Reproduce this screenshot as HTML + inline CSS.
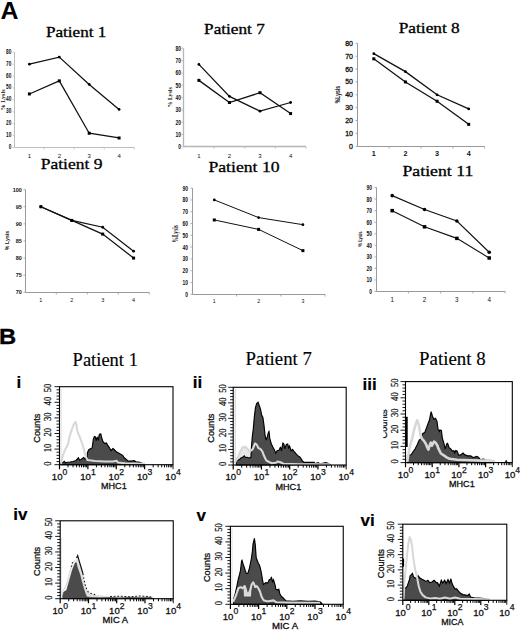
<!DOCTYPE html>
<html><head><meta charset="utf-8"><style>
html,body{margin:0;padding:0;background:#fff;width:520px;height:630px;overflow:hidden;position:relative}
</style></head><body>
<svg width="520" height="630" viewBox="0 0 520 630" style="position:absolute;left:0;top:0">
<text x="0.4" y="19.1" font-size="24.8" font-weight="bold" font-family='"Liberation Sans", sans-serif' fill="#000" textLength="18" lengthAdjust="spacingAndGlyphs">A</text>
<line x1="14.5" y1="52.3" x2="14.5" y2="147.5" stroke="#bdbdbd" stroke-width="1"/>
<line x1="12.5" y1="147.5" x2="14.5" y2="147.5" stroke="#bdbdbd" stroke-width="0.8"/>
<line x1="12.5" y1="135.6" x2="14.5" y2="135.6" stroke="#bdbdbd" stroke-width="0.8"/>
<line x1="12.5" y1="123.7" x2="14.5" y2="123.7" stroke="#bdbdbd" stroke-width="0.8"/>
<line x1="12.5" y1="111.8" x2="14.5" y2="111.8" stroke="#bdbdbd" stroke-width="0.8"/>
<line x1="12.5" y1="99.9" x2="14.5" y2="99.9" stroke="#bdbdbd" stroke-width="0.8"/>
<line x1="12.5" y1="88" x2="14.5" y2="88" stroke="#bdbdbd" stroke-width="0.8"/>
<line x1="12.5" y1="76.1" x2="14.5" y2="76.1" stroke="#bdbdbd" stroke-width="0.8"/>
<line x1="12.5" y1="64.2" x2="14.5" y2="64.2" stroke="#bdbdbd" stroke-width="0.8"/>
<line x1="12.5" y1="52.3" x2="14.5" y2="52.3" stroke="#bdbdbd" stroke-width="0.8"/>
<line x1="14.5" y1="147.5" x2="134.3" y2="147.5" stroke="#bdbdbd" stroke-width="1"/>
<line x1="44.08" y1="147.5" x2="44.08" y2="149.5" stroke="#bdbdbd" stroke-width="0.8"/>
<line x1="74.15" y1="147.5" x2="74.15" y2="149.5" stroke="#bdbdbd" stroke-width="0.8"/>
<line x1="104.23" y1="147.5" x2="104.23" y2="149.5" stroke="#bdbdbd" stroke-width="0.8"/>
<line x1="134.3" y1="147.5" x2="134.3" y2="149.5" stroke="#bdbdbd" stroke-width="0.8"/>
<text x="8.65" y="148.98" font-size="6.6" text-anchor="start" font-family='"Liberation Sans", sans-serif' font-weight="bold" fill="#111" stroke="#111" stroke-width="0" textLength="2.65" lengthAdjust="spacingAndGlyphs">0</text>
<text x="6" y="137.08" font-size="6.6" text-anchor="start" font-family='"Liberation Sans", sans-serif' font-weight="bold" fill="#111" stroke="#111" stroke-width="0" textLength="5.3" lengthAdjust="spacingAndGlyphs">10</text>
<text x="6" y="125.18" font-size="6.6" text-anchor="start" font-family='"Liberation Sans", sans-serif' font-weight="bold" fill="#111" stroke="#111" stroke-width="0" textLength="5.3" lengthAdjust="spacingAndGlyphs">20</text>
<text x="6" y="113.28" font-size="6.6" text-anchor="start" font-family='"Liberation Sans", sans-serif' font-weight="bold" fill="#111" stroke="#111" stroke-width="0" textLength="5.3" lengthAdjust="spacingAndGlyphs">30</text>
<text x="6" y="101.38" font-size="6.6" text-anchor="start" font-family='"Liberation Sans", sans-serif' font-weight="bold" fill="#111" stroke="#111" stroke-width="0" textLength="5.3" lengthAdjust="spacingAndGlyphs">40</text>
<text x="6" y="89.48" font-size="6.6" text-anchor="start" font-family='"Liberation Sans", sans-serif' font-weight="bold" fill="#111" stroke="#111" stroke-width="0" textLength="5.3" lengthAdjust="spacingAndGlyphs">50</text>
<text x="6" y="77.58" font-size="6.6" text-anchor="start" font-family='"Liberation Sans", sans-serif' font-weight="bold" fill="#111" stroke="#111" stroke-width="0" textLength="5.3" lengthAdjust="spacingAndGlyphs">60</text>
<text x="6" y="65.68" font-size="6.6" text-anchor="start" font-family='"Liberation Sans", sans-serif' font-weight="bold" fill="#111" stroke="#111" stroke-width="0" textLength="5.3" lengthAdjust="spacingAndGlyphs">70</text>
<text x="6" y="53.78" font-size="6.6" text-anchor="start" font-family='"Liberation Sans", sans-serif' font-weight="bold" fill="#111" stroke="#111" stroke-width="0" textLength="5.3" lengthAdjust="spacingAndGlyphs">80</text>
<text x="29.4" y="157.56" font-size="6.0" text-anchor="middle" font-family='"Liberation Sans", sans-serif' font-weight="normal" fill="#111">1</text>
<text x="59.3" y="157.56" font-size="6.0" text-anchor="middle" font-family='"Liberation Sans", sans-serif' font-weight="normal" fill="#111">2</text>
<text x="89.2" y="157.56" font-size="6.0" text-anchor="middle" font-family='"Liberation Sans", sans-serif' font-weight="normal" fill="#111">3</text>
<text x="119.1" y="157.56" font-size="6.0" text-anchor="middle" font-family='"Liberation Sans", sans-serif' font-weight="normal" fill="#111">4</text>
<text transform="translate(4.7,99.9) rotate(-90)" font-size="5.5" text-anchor="middle" font-family='"Liberation Serif", serif' font-weight="bold" fill="#111" textLength="21" lengthAdjust="spacingAndGlyphs">% Lysis</text>
<polyline points="29.4,64.2 59.3,57.06 89.2,84.43 119.1,109.42" fill="none" stroke="#111" stroke-width="1.25" stroke-linejoin="miter"/>
<circle cx="29.4" cy="64.2" r="1.4" fill="#000"/>
<circle cx="59.3" cy="57.06" r="1.4" fill="#000"/>
<circle cx="89.2" cy="84.43" r="1.4" fill="#000"/>
<circle cx="119.1" cy="109.42" r="1.4" fill="#000"/>
<polyline points="29.4,93.95 59.3,80.86 89.2,133.22 119.1,137.98" fill="none" stroke="#111" stroke-width="1.25" stroke-linejoin="miter"/>
<rect x="27.9" y="92.45" width="3.0" height="3.0" fill="#000"/>
<rect x="57.8" y="79.36" width="3.0" height="3.0" fill="#000"/>
<rect x="87.7" y="131.72" width="3.0" height="3.0" fill="#000"/>
<rect x="117.6" y="136.48" width="3.0" height="3.0" fill="#000"/>
<text x="46" y="36.7" font-size="13.6" font-family='"Liberation Serif", serif' fill="#000" stroke="#000" stroke-width="0.3" textLength="60.3" lengthAdjust="spacingAndGlyphs">Patient 1</text>
<line x1="183.5" y1="48.4" x2="183.5" y2="146.5" stroke="#b5b5b5" stroke-width="1.3"/>
<line x1="181.5" y1="146.8" x2="183.5" y2="146.8" stroke="#b5b5b5" stroke-width="0.8"/>
<line x1="181.5" y1="134.5" x2="183.5" y2="134.5" stroke="#b5b5b5" stroke-width="0.8"/>
<line x1="181.5" y1="122.2" x2="183.5" y2="122.2" stroke="#b5b5b5" stroke-width="0.8"/>
<line x1="181.5" y1="109.9" x2="183.5" y2="109.9" stroke="#b5b5b5" stroke-width="0.8"/>
<line x1="181.5" y1="97.6" x2="183.5" y2="97.6" stroke="#b5b5b5" stroke-width="0.8"/>
<line x1="181.5" y1="85.3" x2="183.5" y2="85.3" stroke="#b5b5b5" stroke-width="0.8"/>
<line x1="181.5" y1="73" x2="183.5" y2="73" stroke="#b5b5b5" stroke-width="0.8"/>
<line x1="181.5" y1="60.7" x2="183.5" y2="60.7" stroke="#b5b5b5" stroke-width="0.8"/>
<line x1="181.5" y1="48.4" x2="183.5" y2="48.4" stroke="#b5b5b5" stroke-width="0.8"/>
<line x1="183.5" y1="146.5" x2="306" y2="146.5" stroke="#b5b5b5" stroke-width="1.3"/>
<line x1="214.2" y1="146.5" x2="214.2" y2="148.5" stroke="#b5b5b5" stroke-width="0.8"/>
<line x1="244.8" y1="146.5" x2="244.8" y2="148.5" stroke="#b5b5b5" stroke-width="0.8"/>
<line x1="275.4" y1="146.5" x2="275.4" y2="148.5" stroke="#b5b5b5" stroke-width="0.8"/>
<line x1="306" y1="146.5" x2="306" y2="148.5" stroke="#b5b5b5" stroke-width="0.8"/>
<text x="178.15" y="149.1" font-size="6.4" text-anchor="start" font-family='"Liberation Sans", sans-serif' font-weight="bold" fill="#111" stroke="#111" stroke-width="0" textLength="2.75" lengthAdjust="spacingAndGlyphs">0</text>
<text x="175.4" y="136.8" font-size="6.4" text-anchor="start" font-family='"Liberation Sans", sans-serif' font-weight="bold" fill="#111" stroke="#111" stroke-width="0" textLength="5.5" lengthAdjust="spacingAndGlyphs">10</text>
<text x="175.4" y="124.5" font-size="6.4" text-anchor="start" font-family='"Liberation Sans", sans-serif' font-weight="bold" fill="#111" stroke="#111" stroke-width="0" textLength="5.5" lengthAdjust="spacingAndGlyphs">20</text>
<text x="175.4" y="112.2" font-size="6.4" text-anchor="start" font-family='"Liberation Sans", sans-serif' font-weight="bold" fill="#111" stroke="#111" stroke-width="0" textLength="5.5" lengthAdjust="spacingAndGlyphs">30</text>
<text x="175.4" y="99.9" font-size="6.4" text-anchor="start" font-family='"Liberation Sans", sans-serif' font-weight="bold" fill="#111" stroke="#111" stroke-width="0" textLength="5.5" lengthAdjust="spacingAndGlyphs">40</text>
<text x="175.4" y="87.6" font-size="6.4" text-anchor="start" font-family='"Liberation Sans", sans-serif' font-weight="bold" fill="#111" stroke="#111" stroke-width="0" textLength="5.5" lengthAdjust="spacingAndGlyphs">50</text>
<text x="175.4" y="75.3" font-size="6.4" text-anchor="start" font-family='"Liberation Sans", sans-serif' font-weight="bold" fill="#111" stroke="#111" stroke-width="0" textLength="5.5" lengthAdjust="spacingAndGlyphs">60</text>
<text x="175.4" y="63" font-size="6.4" text-anchor="start" font-family='"Liberation Sans", sans-serif' font-weight="bold" fill="#111" stroke="#111" stroke-width="0" textLength="5.5" lengthAdjust="spacingAndGlyphs">70</text>
<text x="175.4" y="50.7" font-size="6.4" text-anchor="start" font-family='"Liberation Sans", sans-serif' font-weight="bold" fill="#111" stroke="#111" stroke-width="0" textLength="5.5" lengthAdjust="spacingAndGlyphs">80</text>
<text x="198.9" y="157.66" font-size="6.0" text-anchor="middle" font-family='"Liberation Sans", sans-serif' font-weight="normal" fill="#111">1</text>
<text x="229.47" y="157.66" font-size="6.0" text-anchor="middle" font-family='"Liberation Sans", sans-serif' font-weight="normal" fill="#111">2</text>
<text x="260.03" y="157.66" font-size="6.0" text-anchor="middle" font-family='"Liberation Sans", sans-serif' font-weight="normal" fill="#111">3</text>
<text x="290.6" y="157.66" font-size="6.0" text-anchor="middle" font-family='"Liberation Sans", sans-serif' font-weight="normal" fill="#111">4</text>
<text transform="translate(172,97.3) rotate(-90)" font-size="5.5" text-anchor="middle" font-family='"Liberation Serif", serif' font-weight="bold" fill="#111" textLength="20" lengthAdjust="spacingAndGlyphs">% Lysis</text>
<polyline points="198.9,64.39 229.47,96.37 260.03,111.13 290.6,102.52" fill="none" stroke="#111" stroke-width="1.25" stroke-linejoin="miter"/>
<circle cx="198.9" cy="64.39" r="1.4" fill="#000"/>
<circle cx="229.47" cy="96.37" r="1.4" fill="#000"/>
<circle cx="260.03" cy="111.13" r="1.4" fill="#000"/>
<circle cx="290.6" cy="102.52" r="1.4" fill="#000"/>
<polyline points="198.9,80.38 229.47,102.52 260.03,92.68 290.6,113.59" fill="none" stroke="#111" stroke-width="1.25" stroke-linejoin="miter"/>
<rect x="197.4" y="78.88" width="3.0" height="3.0" fill="#000"/>
<rect x="227.97" y="101.02" width="3.0" height="3.0" fill="#000"/>
<rect x="258.53" y="91.18" width="3.0" height="3.0" fill="#000"/>
<rect x="289.1" y="112.09" width="3.0" height="3.0" fill="#000"/>
<text x="204.1" y="33.6" font-size="13.6" font-family='"Liberation Serif", serif' fill="#000" stroke="#000" stroke-width="0.3" textLength="60.7" lengthAdjust="spacingAndGlyphs">Patient 7</text>
<line x1="357.5" y1="43.4" x2="357.5" y2="146.5" stroke="#9a9a9a" stroke-width="1"/>
<line x1="355.5" y1="146.2" x2="357.5" y2="146.2" stroke="#9a9a9a" stroke-width="0.8"/>
<line x1="355.5" y1="133.35" x2="357.5" y2="133.35" stroke="#9a9a9a" stroke-width="0.8"/>
<line x1="355.5" y1="120.5" x2="357.5" y2="120.5" stroke="#9a9a9a" stroke-width="0.8"/>
<line x1="355.5" y1="107.65" x2="357.5" y2="107.65" stroke="#9a9a9a" stroke-width="0.8"/>
<line x1="355.5" y1="94.8" x2="357.5" y2="94.8" stroke="#9a9a9a" stroke-width="0.8"/>
<line x1="355.5" y1="81.95" x2="357.5" y2="81.95" stroke="#9a9a9a" stroke-width="0.8"/>
<line x1="355.5" y1="69.1" x2="357.5" y2="69.1" stroke="#9a9a9a" stroke-width="0.8"/>
<line x1="355.5" y1="56.25" x2="357.5" y2="56.25" stroke="#9a9a9a" stroke-width="0.8"/>
<line x1="355.5" y1="43.4" x2="357.5" y2="43.4" stroke="#9a9a9a" stroke-width="0.8"/>
<line x1="357.5" y1="146.5" x2="484.6" y2="146.5" stroke="#9a9a9a" stroke-width="1"/>
<line x1="389.2" y1="146.5" x2="389.2" y2="148.5" stroke="#9a9a9a" stroke-width="0.8"/>
<line x1="421" y1="146.5" x2="421" y2="148.5" stroke="#9a9a9a" stroke-width="0.8"/>
<line x1="452.8" y1="146.5" x2="452.8" y2="148.5" stroke="#9a9a9a" stroke-width="0.8"/>
<line x1="484.6" y1="146.5" x2="484.6" y2="148.5" stroke="#9a9a9a" stroke-width="0.8"/>
<text x="353" y="148.72" font-size="7.0" text-anchor="end" font-family='"Liberation Sans", sans-serif' font-weight="normal" fill="#111" stroke="#111" stroke-width="0.3">0</text>
<text x="353" y="135.87" font-size="7.0" text-anchor="end" font-family='"Liberation Sans", sans-serif' font-weight="normal" fill="#111" stroke="#111" stroke-width="0.3">10</text>
<text x="353" y="123.02" font-size="7.0" text-anchor="end" font-family='"Liberation Sans", sans-serif' font-weight="normal" fill="#111" stroke="#111" stroke-width="0.3">20</text>
<text x="353" y="110.17" font-size="7.0" text-anchor="end" font-family='"Liberation Sans", sans-serif' font-weight="normal" fill="#111" stroke="#111" stroke-width="0.3">30</text>
<text x="353" y="97.32" font-size="7.0" text-anchor="end" font-family='"Liberation Sans", sans-serif' font-weight="normal" fill="#111" stroke="#111" stroke-width="0.3">40</text>
<text x="353" y="84.47" font-size="7.0" text-anchor="end" font-family='"Liberation Sans", sans-serif' font-weight="normal" fill="#111" stroke="#111" stroke-width="0.3">50</text>
<text x="353" y="71.62" font-size="7.0" text-anchor="end" font-family='"Liberation Sans", sans-serif' font-weight="normal" fill="#111" stroke="#111" stroke-width="0.3">60</text>
<text x="353" y="58.77" font-size="7.0" text-anchor="end" font-family='"Liberation Sans", sans-serif' font-weight="normal" fill="#111" stroke="#111" stroke-width="0.3">70</text>
<text x="353" y="45.92" font-size="7.0" text-anchor="end" font-family='"Liberation Sans", sans-serif' font-weight="normal" fill="#111" stroke="#111" stroke-width="0.3">80</text>
<text x="373.8" y="155.69" font-size="7.2" text-anchor="middle" font-family='"Liberation Sans", sans-serif' font-weight="bold" fill="#111">1</text>
<text x="405.43" y="155.69" font-size="7.2" text-anchor="middle" font-family='"Liberation Sans", sans-serif' font-weight="bold" fill="#111">2</text>
<text x="437.07" y="155.69" font-size="7.2" text-anchor="middle" font-family='"Liberation Sans", sans-serif' font-weight="bold" fill="#111">3</text>
<text x="468.7" y="155.69" font-size="7.2" text-anchor="middle" font-family='"Liberation Sans", sans-serif' font-weight="bold" fill="#111">4</text>
<text transform="translate(340,94.6) rotate(-90)" font-size="7.2" text-anchor="middle" font-family='"Liberation Sans", sans-serif' font-weight="bold" fill="#111" textLength="17.4" lengthAdjust="spacingAndGlyphs">%Lysis</text>
<polyline points="373.8,53.68 405.43,71.67 437.07,94.8 468.7,108.93" fill="none" stroke="#111" stroke-width="1.3" stroke-linejoin="miter"/>
<circle cx="373.8" cy="53.68" r="1.4" fill="#000"/>
<circle cx="405.43" cy="71.67" r="1.4" fill="#000"/>
<circle cx="437.07" cy="94.8" r="1.4" fill="#000"/>
<circle cx="468.7" cy="108.93" r="1.4" fill="#000"/>
<polyline points="373.8,58.82 405.43,81.95 437.07,101.22 468.7,124.35" fill="none" stroke="#111" stroke-width="1.3" stroke-linejoin="miter"/>
<rect x="372.3" y="57.32" width="3.0" height="3.0" fill="#000"/>
<rect x="403.93" y="80.45" width="3.0" height="3.0" fill="#000"/>
<rect x="435.57" y="99.72" width="3.0" height="3.0" fill="#000"/>
<rect x="467.2" y="122.85" width="3.0" height="3.0" fill="#000"/>
<text x="398.7" y="33" font-size="13.6" font-family='"Liberation Serif", serif' fill="#000" stroke="#000" stroke-width="0.3" textLength="61.1" lengthAdjust="spacingAndGlyphs">Patient 8</text>
<line x1="25.5" y1="189.61" x2="25.5" y2="292.5" stroke="#9a9a9a" stroke-width="1"/>
<line x1="23.5" y1="292.3" x2="25.5" y2="292.3" stroke="#9a9a9a" stroke-width="0.8"/>
<line x1="23.5" y1="275.19" x2="25.5" y2="275.19" stroke="#9a9a9a" stroke-width="0.8"/>
<line x1="23.5" y1="258.07" x2="25.5" y2="258.07" stroke="#9a9a9a" stroke-width="0.8"/>
<line x1="23.5" y1="240.96" x2="25.5" y2="240.96" stroke="#9a9a9a" stroke-width="0.8"/>
<line x1="23.5" y1="223.84" x2="25.5" y2="223.84" stroke="#9a9a9a" stroke-width="0.8"/>
<line x1="23.5" y1="206.73" x2="25.5" y2="206.73" stroke="#9a9a9a" stroke-width="0.8"/>
<line x1="23.5" y1="189.61" x2="25.5" y2="189.61" stroke="#9a9a9a" stroke-width="0.8"/>
<line x1="25.5" y1="292.5" x2="149.3" y2="292.5" stroke="#9a9a9a" stroke-width="1"/>
<line x1="56.3" y1="292.5" x2="56.3" y2="294.5" stroke="#9a9a9a" stroke-width="0.8"/>
<line x1="87.3" y1="292.5" x2="87.3" y2="294.5" stroke="#9a9a9a" stroke-width="0.8"/>
<line x1="118.3" y1="292.5" x2="118.3" y2="294.5" stroke="#9a9a9a" stroke-width="0.8"/>
<line x1="149.3" y1="292.5" x2="149.3" y2="294.5" stroke="#9a9a9a" stroke-width="0.8"/>
<text x="15.7" y="294.39" font-size="5.8" text-anchor="start" font-family='"Liberation Sans", sans-serif' font-weight="bold" fill="#111" stroke="#111" stroke-width="0" textLength="6.1" lengthAdjust="spacingAndGlyphs">70</text>
<text x="15.7" y="277.27" font-size="5.8" text-anchor="start" font-family='"Liberation Sans", sans-serif' font-weight="bold" fill="#111" stroke="#111" stroke-width="0" textLength="6.1" lengthAdjust="spacingAndGlyphs">75</text>
<text x="15.7" y="260.16" font-size="5.8" text-anchor="start" font-family='"Liberation Sans", sans-serif' font-weight="bold" fill="#111" stroke="#111" stroke-width="0" textLength="6.1" lengthAdjust="spacingAndGlyphs">80</text>
<text x="15.7" y="243.04" font-size="5.8" text-anchor="start" font-family='"Liberation Sans", sans-serif' font-weight="bold" fill="#111" stroke="#111" stroke-width="0" textLength="6.1" lengthAdjust="spacingAndGlyphs">85</text>
<text x="15.7" y="225.93" font-size="5.8" text-anchor="start" font-family='"Liberation Sans", sans-serif' font-weight="bold" fill="#111" stroke="#111" stroke-width="0" textLength="6.1" lengthAdjust="spacingAndGlyphs">90</text>
<text x="15.7" y="208.81" font-size="5.8" text-anchor="start" font-family='"Liberation Sans", sans-serif' font-weight="bold" fill="#111" stroke="#111" stroke-width="0" textLength="6.1" lengthAdjust="spacingAndGlyphs">95</text>
<text x="12.65" y="191.7" font-size="5.8" text-anchor="start" font-family='"Liberation Sans", sans-serif' font-weight="bold" fill="#111" stroke="#111" stroke-width="0" textLength="9.15" lengthAdjust="spacingAndGlyphs">100</text>
<text x="40.9" y="302.08" font-size="5.5" text-anchor="middle" font-family='"Liberation Sans", sans-serif' font-weight="normal" fill="#111">1</text>
<text x="71.8" y="302.08" font-size="5.5" text-anchor="middle" font-family='"Liberation Sans", sans-serif' font-weight="normal" fill="#111">2</text>
<text x="102.7" y="302.08" font-size="5.5" text-anchor="middle" font-family='"Liberation Sans", sans-serif' font-weight="normal" fill="#111">3</text>
<text x="133.6" y="302.08" font-size="5.5" text-anchor="middle" font-family='"Liberation Sans", sans-serif' font-weight="normal" fill="#111">4</text>
<text transform="translate(9.2,240.5) rotate(-90)" font-size="6" text-anchor="middle" font-family='"Liberation Sans", sans-serif' font-weight="bold" fill="#111" textLength="19.3" lengthAdjust="spacingAndGlyphs">% Lysis</text>
<polyline points="40.9,206.73 71.8,220.42 102.7,227.26 133.6,251.22" fill="none" stroke="#111" stroke-width="1.25" stroke-linejoin="miter"/>
<circle cx="40.9" cy="206.73" r="1.4" fill="#000"/>
<circle cx="71.8" cy="220.42" r="1.4" fill="#000"/>
<circle cx="102.7" cy="227.26" r="1.4" fill="#000"/>
<circle cx="133.6" cy="251.22" r="1.4" fill="#000"/>
<polyline points="40.9,206.73 71.8,220.42 102.7,234.11 133.6,258.07" fill="none" stroke="#111" stroke-width="1.25" stroke-linejoin="miter"/>
<rect x="39.4" y="205.23" width="3.0" height="3.0" fill="#000"/>
<rect x="70.3" y="218.92" width="3.0" height="3.0" fill="#000"/>
<rect x="101.2" y="232.61" width="3.0" height="3.0" fill="#000"/>
<rect x="132.1" y="256.57" width="3.0" height="3.0" fill="#000"/>
<text x="40.7" y="168.6" font-size="14.8" font-family='"Liberation Serif", serif' fill="#000" stroke="#000" stroke-width="0.3" textLength="61.7" lengthAdjust="spacingAndGlyphs">Patient 9</text>
<line x1="192.5" y1="188.1" x2="192.5" y2="294.5" stroke="#9a9a9a" stroke-width="1"/>
<line x1="190.5" y1="294.3" x2="192.5" y2="294.3" stroke="#9a9a9a" stroke-width="0.8"/>
<line x1="190.5" y1="282.5" x2="192.5" y2="282.5" stroke="#9a9a9a" stroke-width="0.8"/>
<line x1="190.5" y1="270.7" x2="192.5" y2="270.7" stroke="#9a9a9a" stroke-width="0.8"/>
<line x1="190.5" y1="258.9" x2="192.5" y2="258.9" stroke="#9a9a9a" stroke-width="0.8"/>
<line x1="190.5" y1="247.1" x2="192.5" y2="247.1" stroke="#9a9a9a" stroke-width="0.8"/>
<line x1="190.5" y1="235.3" x2="192.5" y2="235.3" stroke="#9a9a9a" stroke-width="0.8"/>
<line x1="190.5" y1="223.5" x2="192.5" y2="223.5" stroke="#9a9a9a" stroke-width="0.8"/>
<line x1="190.5" y1="211.7" x2="192.5" y2="211.7" stroke="#9a9a9a" stroke-width="0.8"/>
<line x1="190.5" y1="199.9" x2="192.5" y2="199.9" stroke="#9a9a9a" stroke-width="0.8"/>
<line x1="190.5" y1="188.1" x2="192.5" y2="188.1" stroke="#9a9a9a" stroke-width="0.8"/>
<line x1="192.5" y1="294.5" x2="325.1" y2="294.5" stroke="#9a9a9a" stroke-width="1"/>
<line x1="236.57" y1="294.5" x2="236.57" y2="296.5" stroke="#9a9a9a" stroke-width="0.8"/>
<line x1="280.83" y1="294.5" x2="280.83" y2="296.5" stroke="#9a9a9a" stroke-width="0.8"/>
<line x1="325.1" y1="294.5" x2="325.1" y2="296.5" stroke="#9a9a9a" stroke-width="0.8"/>
<text x="185.15" y="296.82" font-size="7.0" text-anchor="start" font-family='"Liberation Sans", sans-serif' font-weight="bold" fill="#111" stroke="#111" stroke-width="0" textLength="2.75" lengthAdjust="spacingAndGlyphs">0</text>
<text x="182.4" y="285.02" font-size="7.0" text-anchor="start" font-family='"Liberation Sans", sans-serif' font-weight="bold" fill="#111" stroke="#111" stroke-width="0" textLength="5.5" lengthAdjust="spacingAndGlyphs">10</text>
<text x="182.4" y="273.22" font-size="7.0" text-anchor="start" font-family='"Liberation Sans", sans-serif' font-weight="bold" fill="#111" stroke="#111" stroke-width="0" textLength="5.5" lengthAdjust="spacingAndGlyphs">20</text>
<text x="182.4" y="261.42" font-size="7.0" text-anchor="start" font-family='"Liberation Sans", sans-serif' font-weight="bold" fill="#111" stroke="#111" stroke-width="0" textLength="5.5" lengthAdjust="spacingAndGlyphs">30</text>
<text x="182.4" y="249.62" font-size="7.0" text-anchor="start" font-family='"Liberation Sans", sans-serif' font-weight="bold" fill="#111" stroke="#111" stroke-width="0" textLength="5.5" lengthAdjust="spacingAndGlyphs">40</text>
<text x="182.4" y="237.82" font-size="7.0" text-anchor="start" font-family='"Liberation Sans", sans-serif' font-weight="bold" fill="#111" stroke="#111" stroke-width="0" textLength="5.5" lengthAdjust="spacingAndGlyphs">50</text>
<text x="182.4" y="226.02" font-size="7.0" text-anchor="start" font-family='"Liberation Sans", sans-serif' font-weight="bold" fill="#111" stroke="#111" stroke-width="0" textLength="5.5" lengthAdjust="spacingAndGlyphs">60</text>
<text x="182.4" y="214.22" font-size="7.0" text-anchor="start" font-family='"Liberation Sans", sans-serif' font-weight="bold" fill="#111" stroke="#111" stroke-width="0" textLength="5.5" lengthAdjust="spacingAndGlyphs">70</text>
<text x="182.4" y="202.42" font-size="7.0" text-anchor="start" font-family='"Liberation Sans", sans-serif' font-weight="bold" fill="#111" stroke="#111" stroke-width="0" textLength="5.5" lengthAdjust="spacingAndGlyphs">80</text>
<text x="182.4" y="190.62" font-size="7.0" text-anchor="start" font-family='"Liberation Sans", sans-serif' font-weight="bold" fill="#111" stroke="#111" stroke-width="0" textLength="5.5" lengthAdjust="spacingAndGlyphs">90</text>
<text x="214.3" y="303.47" font-size="5.2" text-anchor="middle" font-family='"Liberation Sans", sans-serif' font-weight="normal" fill="#111">1</text>
<text x="258.6" y="303.47" font-size="5.2" text-anchor="middle" font-family='"Liberation Sans", sans-serif' font-weight="normal" fill="#111">2</text>
<text x="302.9" y="303.47" font-size="5.2" text-anchor="middle" font-family='"Liberation Sans", sans-serif' font-weight="normal" fill="#111">3</text>
<text transform="translate(178,233.8) rotate(-90)" font-size="7.2" text-anchor="middle" font-family='"Liberation Serif", serif' font-weight="bold" fill="#111" textLength="17.6" lengthAdjust="spacingAndGlyphs">%Lysis</text>
<polyline points="214.3,199.9 258.6,217.6 302.9,224.68" fill="none" stroke="#111" stroke-width="1.0" stroke-linejoin="miter"/>
<circle cx="214.3" cy="199.9" r="1.4" fill="#000"/>
<circle cx="258.6" cy="217.6" r="1.4" fill="#000"/>
<circle cx="302.9" cy="224.68" r="1.4" fill="#000"/>
<polyline points="214.3,219.96 258.6,229.4 302.9,250.64" fill="none" stroke="#111" stroke-width="1.0" stroke-linejoin="miter"/>
<rect x="212.8" y="218.46" width="3.0" height="3.0" fill="#000"/>
<rect x="257.1" y="227.9" width="3.0" height="3.0" fill="#000"/>
<rect x="301.4" y="249.14" width="3.0" height="3.0" fill="#000"/>
<text x="208.4" y="171.7" font-size="15.2" font-family='"Liberation Serif", serif' fill="#000" stroke="#000" stroke-width="0.3" textLength="71.2" lengthAdjust="spacingAndGlyphs">Patient 10</text>
<line x1="376.5" y1="187.55" x2="376.5" y2="291.5" stroke="#9a9a9a" stroke-width="1"/>
<line x1="374.5" y1="291.5" x2="376.5" y2="291.5" stroke="#9a9a9a" stroke-width="0.8"/>
<line x1="374.5" y1="279.95" x2="376.5" y2="279.95" stroke="#9a9a9a" stroke-width="0.8"/>
<line x1="374.5" y1="268.4" x2="376.5" y2="268.4" stroke="#9a9a9a" stroke-width="0.8"/>
<line x1="374.5" y1="256.85" x2="376.5" y2="256.85" stroke="#9a9a9a" stroke-width="0.8"/>
<line x1="374.5" y1="245.3" x2="376.5" y2="245.3" stroke="#9a9a9a" stroke-width="0.8"/>
<line x1="374.5" y1="233.75" x2="376.5" y2="233.75" stroke="#9a9a9a" stroke-width="0.8"/>
<line x1="374.5" y1="222.2" x2="376.5" y2="222.2" stroke="#9a9a9a" stroke-width="0.8"/>
<line x1="374.5" y1="210.65" x2="376.5" y2="210.65" stroke="#9a9a9a" stroke-width="0.8"/>
<line x1="374.5" y1="199.1" x2="376.5" y2="199.1" stroke="#9a9a9a" stroke-width="0.8"/>
<line x1="374.5" y1="187.55" x2="376.5" y2="187.55" stroke="#9a9a9a" stroke-width="0.8"/>
<line x1="376.5" y1="291.5" x2="505.2" y2="291.5" stroke="#9a9a9a" stroke-width="1"/>
<line x1="408.38" y1="291.5" x2="408.38" y2="293.5" stroke="#9a9a9a" stroke-width="0.8"/>
<line x1="440.65" y1="291.5" x2="440.65" y2="293.5" stroke="#9a9a9a" stroke-width="0.8"/>
<line x1="472.93" y1="291.5" x2="472.93" y2="293.5" stroke="#9a9a9a" stroke-width="0.8"/>
<line x1="505.2" y1="291.5" x2="505.2" y2="293.5" stroke="#9a9a9a" stroke-width="0.8"/>
<text x="369.25" y="294.02" font-size="7.0" text-anchor="start" font-family='"Liberation Sans", sans-serif' font-weight="bold" fill="#111" stroke="#111" stroke-width="0" textLength="2.75" lengthAdjust="spacingAndGlyphs">0</text>
<text x="366.5" y="282.47" font-size="7.0" text-anchor="start" font-family='"Liberation Sans", sans-serif' font-weight="bold" fill="#111" stroke="#111" stroke-width="0" textLength="5.5" lengthAdjust="spacingAndGlyphs">10</text>
<text x="366.5" y="270.92" font-size="7.0" text-anchor="start" font-family='"Liberation Sans", sans-serif' font-weight="bold" fill="#111" stroke="#111" stroke-width="0" textLength="5.5" lengthAdjust="spacingAndGlyphs">20</text>
<text x="366.5" y="259.37" font-size="7.0" text-anchor="start" font-family='"Liberation Sans", sans-serif' font-weight="bold" fill="#111" stroke="#111" stroke-width="0" textLength="5.5" lengthAdjust="spacingAndGlyphs">30</text>
<text x="366.5" y="247.82" font-size="7.0" text-anchor="start" font-family='"Liberation Sans", sans-serif' font-weight="bold" fill="#111" stroke="#111" stroke-width="0" textLength="5.5" lengthAdjust="spacingAndGlyphs">40</text>
<text x="366.5" y="236.27" font-size="7.0" text-anchor="start" font-family='"Liberation Sans", sans-serif' font-weight="bold" fill="#111" stroke="#111" stroke-width="0" textLength="5.5" lengthAdjust="spacingAndGlyphs">50</text>
<text x="366.5" y="224.72" font-size="7.0" text-anchor="start" font-family='"Liberation Sans", sans-serif' font-weight="bold" fill="#111" stroke="#111" stroke-width="0" textLength="5.5" lengthAdjust="spacingAndGlyphs">60</text>
<text x="366.5" y="213.17" font-size="7.0" text-anchor="start" font-family='"Liberation Sans", sans-serif' font-weight="bold" fill="#111" stroke="#111" stroke-width="0" textLength="5.5" lengthAdjust="spacingAndGlyphs">70</text>
<text x="366.5" y="201.62" font-size="7.0" text-anchor="start" font-family='"Liberation Sans", sans-serif' font-weight="bold" fill="#111" stroke="#111" stroke-width="0" textLength="5.5" lengthAdjust="spacingAndGlyphs">80</text>
<text x="366.5" y="190.07" font-size="7.0" text-anchor="start" font-family='"Liberation Sans", sans-serif' font-weight="bold" fill="#111" stroke="#111" stroke-width="0" textLength="5.5" lengthAdjust="spacingAndGlyphs">90</text>
<text x="392.2" y="302.47" font-size="6.3" text-anchor="middle" font-family='"Liberation Sans", sans-serif' font-weight="normal" fill="#111">1</text>
<text x="424.53" y="302.47" font-size="6.3" text-anchor="middle" font-family='"Liberation Sans", sans-serif' font-weight="normal" fill="#111">2</text>
<text x="456.87" y="302.47" font-size="6.3" text-anchor="middle" font-family='"Liberation Sans", sans-serif' font-weight="normal" fill="#111">3</text>
<text x="489.2" y="302.47" font-size="6.3" text-anchor="middle" font-family='"Liberation Sans", sans-serif' font-weight="normal" fill="#111">4</text>
<text transform="translate(362.3,239) rotate(-90)" font-size="5" text-anchor="middle" font-family='"Liberation Sans", sans-serif' font-weight="bold" fill="#111" textLength="15.3" lengthAdjust="spacingAndGlyphs">% Lysis</text>
<polyline points="392.2,195.63 424.53,209.5 456.87,221.05 489.2,252.23" fill="none" stroke="#111" stroke-width="1.1" stroke-linejoin="miter"/>
<circle cx="392.2" cy="195.63" r="1.8" fill="#000"/>
<circle cx="424.53" cy="209.5" r="1.8" fill="#000"/>
<circle cx="456.87" cy="221.05" r="1.8" fill="#000"/>
<circle cx="489.2" cy="252.23" r="1.8" fill="#000"/>
<polyline points="392.2,210.65 424.53,226.82 456.87,238.37 489.2,258" fill="none" stroke="#111" stroke-width="1.1" stroke-linejoin="miter"/>
<rect x="390.45" y="208.9" width="3.5" height="3.5" fill="#000"/>
<rect x="422.78" y="225.07" width="3.5" height="3.5" fill="#000"/>
<rect x="455.12" y="236.62" width="3.5" height="3.5" fill="#000"/>
<rect x="487.45" y="256.25" width="3.5" height="3.5" fill="#000"/>
<text x="402.5" y="175.7" font-size="14.8" font-family='"Liberation Serif", serif' fill="#000" stroke="#000" stroke-width="0.3" textLength="70.8" lengthAdjust="spacingAndGlyphs">Patient 11</text>
<text x="-0.9" y="343.9" font-size="21.6" font-weight="bold" font-family='"Liberation Sans", sans-serif' fill="#000" stroke="#000" stroke-width="0.3" textLength="17.2" lengthAdjust="spacingAndGlyphs">B</text>
<defs><clipPath id="cc3"><rect x="383.4" y="370" width="30" height="90"/></clipPath></defs>
<polygon points="61.0,464.7 61.0,462.3 63.0,462.5 64.3,461.3 65.5,463.0 67.0,462.3 70.0,462.0 73.0,461.5 76.0,460.5 78.4,457.8 79.5,460.0 81.0,459.5 83.7,457.5 85.0,459.0 86.5,458.5 87.2,457.9 87.4,452.9 88.6,450.0 90.8,448.6 92.2,447.9 93.3,439.3 94.4,436.4 95.4,436.8 96.1,440.7 97.2,437.5 98.3,439.6 99.4,434.3 100.8,433.9 101.5,437.1 102.9,441.4 104.7,443.6 106.5,442.9 107.6,445.0 109.0,447.1 111.1,450.7 112.9,448.6 113.6,449.0 116.0,451.5 119.4,453.4 122.7,455.3 124.2,457.8 126.1,459.2 128.1,461.1 131.0,461.1 134.4,460.7 136.0,462.0 138.7,462.1 141.6,463.1 143.0,464.2 143.0,464.7" fill="#4b4b4b" stroke="#000" stroke-width="1.15" stroke-linejoin="miter" stroke-miterlimit="3"/>
<line x1="61.2" y1="388.7" x2="61.2" y2="464.7" stroke="#e6e6e6" stroke-width="1.2"/>
<polyline points="61.2,463.0 62.5,457.0 64.5,451.0 66.5,447.0 68.0,444.5 69.5,437.0 70.7,433.0 72.0,429.0 73.5,425.0 75.5,421.8 76.5,425.0 77.1,430.0 78.5,434.0 79.9,437.0 81.2,441.0 83.0,446.0 84.5,452.0 86.0,457.0 87.5,460.0 95.0,461.0 105.0,461.5 113.0,461.5 116.5,460.7 118.0,462.5 125.0,463.3 135.0,463.5 145.0,463.8" fill="none" stroke="#d8d8d8" stroke-width="2.1" stroke-linejoin="round"/>
<rect x="59.5" y="386.7" width="113.5" height="78" fill="none" stroke="#000" stroke-width="1.1"/>
<line x1="54.5" y1="464.7" x2="59.5" y2="464.7" stroke="#000" stroke-width="0.9"/>
<line x1="56.5" y1="461.58" x2="59.5" y2="461.58" stroke="#000" stroke-width="0.9"/>
<line x1="56.5" y1="458.46" x2="59.5" y2="458.46" stroke="#000" stroke-width="0.9"/>
<line x1="56.5" y1="455.34" x2="59.5" y2="455.34" stroke="#000" stroke-width="0.9"/>
<line x1="56.5" y1="452.22" x2="59.5" y2="452.22" stroke="#000" stroke-width="0.9"/>
<line x1="54.5" y1="449.1" x2="59.5" y2="449.1" stroke="#000" stroke-width="0.9"/>
<line x1="56.5" y1="445.98" x2="59.5" y2="445.98" stroke="#000" stroke-width="0.9"/>
<line x1="56.5" y1="442.86" x2="59.5" y2="442.86" stroke="#000" stroke-width="0.9"/>
<line x1="56.5" y1="439.74" x2="59.5" y2="439.74" stroke="#000" stroke-width="0.9"/>
<line x1="56.5" y1="436.62" x2="59.5" y2="436.62" stroke="#000" stroke-width="0.9"/>
<line x1="54.5" y1="433.5" x2="59.5" y2="433.5" stroke="#000" stroke-width="0.9"/>
<line x1="56.5" y1="430.38" x2="59.5" y2="430.38" stroke="#000" stroke-width="0.9"/>
<line x1="56.5" y1="427.26" x2="59.5" y2="427.26" stroke="#000" stroke-width="0.9"/>
<line x1="56.5" y1="424.14" x2="59.5" y2="424.14" stroke="#000" stroke-width="0.9"/>
<line x1="56.5" y1="421.02" x2="59.5" y2="421.02" stroke="#000" stroke-width="0.9"/>
<line x1="54.5" y1="417.9" x2="59.5" y2="417.9" stroke="#000" stroke-width="0.9"/>
<line x1="56.5" y1="414.78" x2="59.5" y2="414.78" stroke="#000" stroke-width="0.9"/>
<line x1="56.5" y1="411.66" x2="59.5" y2="411.66" stroke="#000" stroke-width="0.9"/>
<line x1="56.5" y1="408.54" x2="59.5" y2="408.54" stroke="#000" stroke-width="0.9"/>
<line x1="56.5" y1="405.42" x2="59.5" y2="405.42" stroke="#000" stroke-width="0.9"/>
<line x1="54.5" y1="402.3" x2="59.5" y2="402.3" stroke="#000" stroke-width="0.9"/>
<line x1="56.5" y1="399.18" x2="59.5" y2="399.18" stroke="#000" stroke-width="0.9"/>
<line x1="56.5" y1="396.06" x2="59.5" y2="396.06" stroke="#000" stroke-width="0.9"/>
<line x1="56.5" y1="392.94" x2="59.5" y2="392.94" stroke="#000" stroke-width="0.9"/>
<line x1="56.5" y1="389.82" x2="59.5" y2="389.82" stroke="#000" stroke-width="0.9"/>
<line x1="54.5" y1="386.7" x2="59.5" y2="386.7" stroke="#000" stroke-width="0.9"/>
<line x1="59.5" y1="464.7" x2="59.5" y2="469.3" stroke="#000" stroke-width="1.2"/>
<line x1="68.04" y1="464.7" x2="68.04" y2="467.3" stroke="#000" stroke-width="1.0"/>
<line x1="73.04" y1="464.7" x2="73.04" y2="467.3" stroke="#000" stroke-width="1.0"/>
<line x1="76.58" y1="464.7" x2="76.58" y2="467.3" stroke="#000" stroke-width="1.0"/>
<line x1="79.33" y1="464.7" x2="79.33" y2="467.3" stroke="#000" stroke-width="1.0"/>
<line x1="81.58" y1="464.7" x2="81.58" y2="467.3" stroke="#000" stroke-width="1.0"/>
<line x1="83.48" y1="464.7" x2="83.48" y2="467.3" stroke="#000" stroke-width="1.0"/>
<line x1="85.13" y1="464.7" x2="85.13" y2="467.3" stroke="#000" stroke-width="1.0"/>
<line x1="86.58" y1="464.7" x2="86.58" y2="467.3" stroke="#000" stroke-width="1.0"/>
<line x1="87.88" y1="464.7" x2="87.88" y2="469.3" stroke="#000" stroke-width="1.2"/>
<line x1="96.42" y1="464.7" x2="96.42" y2="467.3" stroke="#000" stroke-width="1.0"/>
<line x1="101.41" y1="464.7" x2="101.41" y2="467.3" stroke="#000" stroke-width="1.0"/>
<line x1="104.96" y1="464.7" x2="104.96" y2="467.3" stroke="#000" stroke-width="1.0"/>
<line x1="107.71" y1="464.7" x2="107.71" y2="467.3" stroke="#000" stroke-width="1.0"/>
<line x1="109.96" y1="464.7" x2="109.96" y2="467.3" stroke="#000" stroke-width="1.0"/>
<line x1="111.85" y1="464.7" x2="111.85" y2="467.3" stroke="#000" stroke-width="1.0"/>
<line x1="113.5" y1="464.7" x2="113.5" y2="467.3" stroke="#000" stroke-width="1.0"/>
<line x1="114.95" y1="464.7" x2="114.95" y2="467.3" stroke="#000" stroke-width="1.0"/>
<line x1="116.25" y1="464.7" x2="116.25" y2="469.3" stroke="#000" stroke-width="1.2"/>
<line x1="124.79" y1="464.7" x2="124.79" y2="467.3" stroke="#000" stroke-width="1.0"/>
<line x1="129.79" y1="464.7" x2="129.79" y2="467.3" stroke="#000" stroke-width="1.0"/>
<line x1="133.33" y1="464.7" x2="133.33" y2="467.3" stroke="#000" stroke-width="1.0"/>
<line x1="136.08" y1="464.7" x2="136.08" y2="467.3" stroke="#000" stroke-width="1.0"/>
<line x1="138.33" y1="464.7" x2="138.33" y2="467.3" stroke="#000" stroke-width="1.0"/>
<line x1="140.23" y1="464.7" x2="140.23" y2="467.3" stroke="#000" stroke-width="1.0"/>
<line x1="141.88" y1="464.7" x2="141.88" y2="467.3" stroke="#000" stroke-width="1.0"/>
<line x1="143.33" y1="464.7" x2="143.33" y2="467.3" stroke="#000" stroke-width="1.0"/>
<line x1="144.62" y1="464.7" x2="144.62" y2="469.3" stroke="#000" stroke-width="1.2"/>
<line x1="153.17" y1="464.7" x2="153.17" y2="467.3" stroke="#000" stroke-width="1.0"/>
<line x1="158.16" y1="464.7" x2="158.16" y2="467.3" stroke="#000" stroke-width="1.0"/>
<line x1="161.71" y1="464.7" x2="161.71" y2="467.3" stroke="#000" stroke-width="1.0"/>
<line x1="164.46" y1="464.7" x2="164.46" y2="467.3" stroke="#000" stroke-width="1.0"/>
<line x1="166.71" y1="464.7" x2="166.71" y2="467.3" stroke="#000" stroke-width="1.0"/>
<line x1="168.6" y1="464.7" x2="168.6" y2="467.3" stroke="#000" stroke-width="1.0"/>
<line x1="170.25" y1="464.7" x2="170.25" y2="467.3" stroke="#000" stroke-width="1.0"/>
<line x1="171.7" y1="464.7" x2="171.7" y2="467.3" stroke="#000" stroke-width="1.0"/>
<line x1="173" y1="464.7" x2="173" y2="469.2" stroke="#000" stroke-width="0.9"/>
<text transform="translate(50.9,463.5) rotate(-90)" font-size="9.4" text-anchor="middle" font-family='"Liberation Serif", serif' fill="#111" stroke="#111" stroke-width="0.25" textLength="4.3" lengthAdjust="spacingAndGlyphs">0</text>
<text transform="translate(50.9,447.9) rotate(-90)" font-size="9.4" text-anchor="middle" font-family='"Liberation Serif", serif' fill="#111" stroke="#111" stroke-width="0.25" textLength="8.6" lengthAdjust="spacingAndGlyphs">10</text>
<text transform="translate(50.9,432.3) rotate(-90)" font-size="9.4" text-anchor="middle" font-family='"Liberation Serif", serif' fill="#111" stroke="#111" stroke-width="0.25" textLength="8.6" lengthAdjust="spacingAndGlyphs">20</text>
<text transform="translate(50.9,416.7) rotate(-90)" font-size="9.4" text-anchor="middle" font-family='"Liberation Serif", serif' fill="#111" stroke="#111" stroke-width="0.25" textLength="8.6" lengthAdjust="spacingAndGlyphs">30</text>
<text transform="translate(50.9,401.1) rotate(-90)" font-size="9.4" text-anchor="middle" font-family='"Liberation Serif", serif' fill="#111" stroke="#111" stroke-width="0.25" textLength="8.6" lengthAdjust="spacingAndGlyphs">40</text>
<text transform="translate(50.9,387.9) rotate(-90)" font-size="9.4" text-anchor="middle" font-family='"Liberation Serif", serif' fill="#111" stroke="#111" stroke-width="0.25" textLength="8.6" lengthAdjust="spacingAndGlyphs">50</text>
<g><text transform="translate(39.7,428.2) rotate(-90)" font-size="8.8" text-anchor="middle" font-family='"Liberation Sans", sans-serif' fill="#111" stroke="#111" stroke-width="0.3" textLength="29" lengthAdjust="spacingAndGlyphs">Counts</text></g>
<text x="62.5" y="480" font-size="9.6" text-anchor="end" font-family='"Liberation Sans", sans-serif' fill="#111" stroke="#111" stroke-width="0.3">10</text>
<text x="62.5" y="474.6" font-size="8.6" font-family='"Liberation Sans", sans-serif' fill="#111" stroke="#111" stroke-width="0.25">0</text>
<text x="90.88" y="480" font-size="9.6" text-anchor="end" font-family='"Liberation Sans", sans-serif' fill="#111" stroke="#111" stroke-width="0.3">10</text>
<text x="90.88" y="474.6" font-size="8.6" font-family='"Liberation Sans", sans-serif' fill="#111" stroke="#111" stroke-width="0.25">1</text>
<text x="119.25" y="480" font-size="9.6" text-anchor="end" font-family='"Liberation Sans", sans-serif' fill="#111" stroke="#111" stroke-width="0.3">10</text>
<text x="119.25" y="474.6" font-size="8.6" font-family='"Liberation Sans", sans-serif' fill="#111" stroke="#111" stroke-width="0.25">2</text>
<text x="147.62" y="480" font-size="9.6" text-anchor="end" font-family='"Liberation Sans", sans-serif' fill="#111" stroke="#111" stroke-width="0.3">10</text>
<text x="147.62" y="474.6" font-size="8.6" font-family='"Liberation Sans", sans-serif' fill="#111" stroke="#111" stroke-width="0.25">3</text>
<text x="176" y="480" font-size="9.6" text-anchor="end" font-family='"Liberation Sans", sans-serif' fill="#111" stroke="#111" stroke-width="0.3">10</text>
<text x="176" y="474.6" font-size="8.6" font-family='"Liberation Sans", sans-serif' fill="#111" stroke="#111" stroke-width="0.25">4</text>
<text x="101" y="489.2" font-size="8.8" font-family='"Liberation Sans", sans-serif' fill="#111" stroke="#111" stroke-width="0.3" textLength="25.7" lengthAdjust="spacingAndGlyphs">MHC1</text>
<text x="16.6" y="388" font-size="17" font-weight="bold" font-family='"Liberation Sans", sans-serif' fill="#000" stroke="#000" stroke-width="0.2">i</text>
<text x="72.6" y="365.5" font-size="18" font-family='"Liberation Serif", serif' fill="#000" stroke="#000" stroke-width="0.15" textLength="65.3" lengthAdjust="spacingAndGlyphs">Patient 1</text>
<polygon points="236,463 237.5,458.1 240.3,451.3 242.6,447.4 245.4,446.8 247.6,449.1 249.9,451.3 252,452 252,458 246,460 240,462" fill="#e6e6e6"/>
<polygon points="236.2,465.0 236.2,461.5 237.5,460.2 239.5,459.5 241.0,458.0 243.0,457.0 244.3,455.9 245.5,457.5 247.0,457.3 249.0,458.0 251.0,457.3 251.4,448.0 252.2,437.8 253.3,428.8 254.4,416.4 255.5,407.4 256.7,403.5 258.0,402.3 259.5,406.3 260.6,409.6 261.7,415.3 262.9,417.5 264.0,425.4 265.1,435.6 266.2,440.0 267.4,436.7 268.5,432.2 269.0,431.5 269.9,439.2 271.4,444.0 272.8,446.9 274.3,449.8 275.7,453.2 277.1,450.8 279.1,450.3 280.5,446.9 281.5,450.8 282.9,443.1 283.9,444.0 284.8,448.8 286.3,444.5 287.7,444.0 288.7,447.9 289.6,446.0 291.1,450.8 292.5,449.3 294.0,451.3 295.9,453.7 297.8,455.6 299.7,457.0 301.2,458.9 302.6,461.3 304.1,462.3 314.2,462.3 315.1,463.8 318.0,462.6 320.0,463.8 326.0,462.6 329.0,463.8 330.0,464.5 330.0,465.0" fill="#4b4b4b" stroke="#000" stroke-width="1.15" stroke-linejoin="miter" stroke-miterlimit="3"/>
<line x1="235.2" y1="388.8" x2="235.2" y2="465.0" stroke="#dadada" stroke-width="1.3"/>
<polyline points="234.5,463.0 237.5,458.1 240.3,451.3 242.6,447.4 245.4,446.8 247.6,449.1 249.9,451.3 252.7,449.1 255.0,443.5 256.7,444.6 258.4,448.0 260.6,449.1 262.3,451.3 264.0,455.8 266.2,460.4 269.0,462.0 271.9,463.2 275.7,462.8 277.6,461.5 280.5,462.3 283.4,463.8 300.0,464.2 330.0,464.2" fill="none" stroke="#d8d8d8" stroke-width="2.1" stroke-linejoin="round"/>
<rect x="233.2" y="387.3" width="113" height="77.7" fill="none" stroke="#000" stroke-width="1.1"/>
<line x1="228.2" y1="465" x2="233.2" y2="465" stroke="#000" stroke-width="0.9"/>
<line x1="230.2" y1="461.89" x2="233.2" y2="461.89" stroke="#000" stroke-width="0.9"/>
<line x1="230.2" y1="458.78" x2="233.2" y2="458.78" stroke="#000" stroke-width="0.9"/>
<line x1="230.2" y1="455.68" x2="233.2" y2="455.68" stroke="#000" stroke-width="0.9"/>
<line x1="230.2" y1="452.57" x2="233.2" y2="452.57" stroke="#000" stroke-width="0.9"/>
<line x1="228.2" y1="449.46" x2="233.2" y2="449.46" stroke="#000" stroke-width="0.9"/>
<line x1="230.2" y1="446.35" x2="233.2" y2="446.35" stroke="#000" stroke-width="0.9"/>
<line x1="230.2" y1="443.24" x2="233.2" y2="443.24" stroke="#000" stroke-width="0.9"/>
<line x1="230.2" y1="440.14" x2="233.2" y2="440.14" stroke="#000" stroke-width="0.9"/>
<line x1="230.2" y1="437.03" x2="233.2" y2="437.03" stroke="#000" stroke-width="0.9"/>
<line x1="228.2" y1="433.92" x2="233.2" y2="433.92" stroke="#000" stroke-width="0.9"/>
<line x1="230.2" y1="430.81" x2="233.2" y2="430.81" stroke="#000" stroke-width="0.9"/>
<line x1="230.2" y1="427.7" x2="233.2" y2="427.7" stroke="#000" stroke-width="0.9"/>
<line x1="230.2" y1="424.6" x2="233.2" y2="424.6" stroke="#000" stroke-width="0.9"/>
<line x1="230.2" y1="421.49" x2="233.2" y2="421.49" stroke="#000" stroke-width="0.9"/>
<line x1="228.2" y1="418.38" x2="233.2" y2="418.38" stroke="#000" stroke-width="0.9"/>
<line x1="230.2" y1="415.27" x2="233.2" y2="415.27" stroke="#000" stroke-width="0.9"/>
<line x1="230.2" y1="412.16" x2="233.2" y2="412.16" stroke="#000" stroke-width="0.9"/>
<line x1="230.2" y1="409.06" x2="233.2" y2="409.06" stroke="#000" stroke-width="0.9"/>
<line x1="230.2" y1="405.95" x2="233.2" y2="405.95" stroke="#000" stroke-width="0.9"/>
<line x1="228.2" y1="402.84" x2="233.2" y2="402.84" stroke="#000" stroke-width="0.9"/>
<line x1="230.2" y1="399.73" x2="233.2" y2="399.73" stroke="#000" stroke-width="0.9"/>
<line x1="230.2" y1="396.62" x2="233.2" y2="396.62" stroke="#000" stroke-width="0.9"/>
<line x1="230.2" y1="393.52" x2="233.2" y2="393.52" stroke="#000" stroke-width="0.9"/>
<line x1="230.2" y1="390.41" x2="233.2" y2="390.41" stroke="#000" stroke-width="0.9"/>
<line x1="228.2" y1="387.3" x2="233.2" y2="387.3" stroke="#000" stroke-width="0.9"/>
<line x1="233.2" y1="465" x2="233.2" y2="469.6" stroke="#000" stroke-width="1.2"/>
<line x1="241.7" y1="465" x2="241.7" y2="467.6" stroke="#000" stroke-width="1.0"/>
<line x1="246.68" y1="465" x2="246.68" y2="467.6" stroke="#000" stroke-width="1.0"/>
<line x1="250.21" y1="465" x2="250.21" y2="467.6" stroke="#000" stroke-width="1.0"/>
<line x1="252.95" y1="465" x2="252.95" y2="467.6" stroke="#000" stroke-width="1.0"/>
<line x1="255.18" y1="465" x2="255.18" y2="467.6" stroke="#000" stroke-width="1.0"/>
<line x1="257.07" y1="465" x2="257.07" y2="467.6" stroke="#000" stroke-width="1.0"/>
<line x1="258.71" y1="465" x2="258.71" y2="467.6" stroke="#000" stroke-width="1.0"/>
<line x1="260.16" y1="465" x2="260.16" y2="467.6" stroke="#000" stroke-width="1.0"/>
<line x1="261.45" y1="465" x2="261.45" y2="469.6" stroke="#000" stroke-width="1.2"/>
<line x1="269.95" y1="465" x2="269.95" y2="467.6" stroke="#000" stroke-width="1.0"/>
<line x1="274.93" y1="465" x2="274.93" y2="467.6" stroke="#000" stroke-width="1.0"/>
<line x1="278.46" y1="465" x2="278.46" y2="467.6" stroke="#000" stroke-width="1.0"/>
<line x1="281.2" y1="465" x2="281.2" y2="467.6" stroke="#000" stroke-width="1.0"/>
<line x1="283.43" y1="465" x2="283.43" y2="467.6" stroke="#000" stroke-width="1.0"/>
<line x1="285.32" y1="465" x2="285.32" y2="467.6" stroke="#000" stroke-width="1.0"/>
<line x1="286.96" y1="465" x2="286.96" y2="467.6" stroke="#000" stroke-width="1.0"/>
<line x1="288.41" y1="465" x2="288.41" y2="467.6" stroke="#000" stroke-width="1.0"/>
<line x1="289.7" y1="465" x2="289.7" y2="469.6" stroke="#000" stroke-width="1.2"/>
<line x1="298.2" y1="465" x2="298.2" y2="467.6" stroke="#000" stroke-width="1.0"/>
<line x1="303.18" y1="465" x2="303.18" y2="467.6" stroke="#000" stroke-width="1.0"/>
<line x1="306.71" y1="465" x2="306.71" y2="467.6" stroke="#000" stroke-width="1.0"/>
<line x1="309.45" y1="465" x2="309.45" y2="467.6" stroke="#000" stroke-width="1.0"/>
<line x1="311.68" y1="465" x2="311.68" y2="467.6" stroke="#000" stroke-width="1.0"/>
<line x1="313.57" y1="465" x2="313.57" y2="467.6" stroke="#000" stroke-width="1.0"/>
<line x1="315.21" y1="465" x2="315.21" y2="467.6" stroke="#000" stroke-width="1.0"/>
<line x1="316.66" y1="465" x2="316.66" y2="467.6" stroke="#000" stroke-width="1.0"/>
<line x1="317.95" y1="465" x2="317.95" y2="469.6" stroke="#000" stroke-width="1.2"/>
<line x1="326.45" y1="465" x2="326.45" y2="467.6" stroke="#000" stroke-width="1.0"/>
<line x1="331.43" y1="465" x2="331.43" y2="467.6" stroke="#000" stroke-width="1.0"/>
<line x1="334.96" y1="465" x2="334.96" y2="467.6" stroke="#000" stroke-width="1.0"/>
<line x1="337.7" y1="465" x2="337.7" y2="467.6" stroke="#000" stroke-width="1.0"/>
<line x1="339.93" y1="465" x2="339.93" y2="467.6" stroke="#000" stroke-width="1.0"/>
<line x1="341.82" y1="465" x2="341.82" y2="467.6" stroke="#000" stroke-width="1.0"/>
<line x1="343.46" y1="465" x2="343.46" y2="467.6" stroke="#000" stroke-width="1.0"/>
<line x1="344.91" y1="465" x2="344.91" y2="467.6" stroke="#000" stroke-width="1.0"/>
<line x1="346.2" y1="465" x2="346.2" y2="469.5" stroke="#000" stroke-width="0.9"/>
<text transform="translate(225.7,463.8) rotate(-90)" font-size="9.4" text-anchor="middle" font-family='"Liberation Serif", serif' fill="#111" stroke="#111" stroke-width="0.25" textLength="4.3" lengthAdjust="spacingAndGlyphs">0</text>
<text transform="translate(225.7,448.26) rotate(-90)" font-size="9.4" text-anchor="middle" font-family='"Liberation Serif", serif' fill="#111" stroke="#111" stroke-width="0.25" textLength="8.6" lengthAdjust="spacingAndGlyphs">10</text>
<text transform="translate(225.7,432.72) rotate(-90)" font-size="9.4" text-anchor="middle" font-family='"Liberation Serif", serif' fill="#111" stroke="#111" stroke-width="0.25" textLength="8.6" lengthAdjust="spacingAndGlyphs">20</text>
<text transform="translate(225.7,417.18) rotate(-90)" font-size="9.4" text-anchor="middle" font-family='"Liberation Serif", serif' fill="#111" stroke="#111" stroke-width="0.25" textLength="8.6" lengthAdjust="spacingAndGlyphs">30</text>
<text transform="translate(225.7,401.64) rotate(-90)" font-size="9.4" text-anchor="middle" font-family='"Liberation Serif", serif' fill="#111" stroke="#111" stroke-width="0.25" textLength="8.6" lengthAdjust="spacingAndGlyphs">40</text>
<text transform="translate(225.7,388.5) rotate(-90)" font-size="9.4" text-anchor="middle" font-family='"Liberation Serif", serif' fill="#111" stroke="#111" stroke-width="0.25" textLength="8.6" lengthAdjust="spacingAndGlyphs">50</text>
<g><text transform="translate(214,428.2) rotate(-90)" font-size="8.8" text-anchor="middle" font-family='"Liberation Sans", sans-serif' fill="#111" stroke="#111" stroke-width="0.3" textLength="29" lengthAdjust="spacingAndGlyphs">Counts</text></g>
<text x="236.2" y="480.3" font-size="9.6" text-anchor="end" font-family='"Liberation Sans", sans-serif' fill="#111" stroke="#111" stroke-width="0.3">10</text>
<text x="236.2" y="474.9" font-size="8.6" font-family='"Liberation Sans", sans-serif' fill="#111" stroke="#111" stroke-width="0.25">0</text>
<text x="264.45" y="480.3" font-size="9.6" text-anchor="end" font-family='"Liberation Sans", sans-serif' fill="#111" stroke="#111" stroke-width="0.3">10</text>
<text x="264.45" y="474.9" font-size="8.6" font-family='"Liberation Sans", sans-serif' fill="#111" stroke="#111" stroke-width="0.25">1</text>
<text x="292.7" y="480.3" font-size="9.6" text-anchor="end" font-family='"Liberation Sans", sans-serif' fill="#111" stroke="#111" stroke-width="0.3">10</text>
<text x="292.7" y="474.9" font-size="8.6" font-family='"Liberation Sans", sans-serif' fill="#111" stroke="#111" stroke-width="0.25">2</text>
<text x="320.95" y="480.3" font-size="9.6" text-anchor="end" font-family='"Liberation Sans", sans-serif' fill="#111" stroke="#111" stroke-width="0.3">10</text>
<text x="320.95" y="474.9" font-size="8.6" font-family='"Liberation Sans", sans-serif' fill="#111" stroke="#111" stroke-width="0.25">3</text>
<text x="349.2" y="480.3" font-size="9.6" text-anchor="end" font-family='"Liberation Sans", sans-serif' fill="#111" stroke="#111" stroke-width="0.3">10</text>
<text x="349.2" y="474.9" font-size="8.6" font-family='"Liberation Sans", sans-serif' fill="#111" stroke="#111" stroke-width="0.25">4</text>
<text x="275.5" y="489.5" font-size="8.8" font-family='"Liberation Sans", sans-serif' fill="#111" stroke="#111" stroke-width="0.3" textLength="25.7" lengthAdjust="spacingAndGlyphs">MHC1</text>
<text x="192.8" y="388.3" font-size="17" font-weight="bold" font-family='"Liberation Sans", sans-serif' fill="#000" stroke="#000" stroke-width="0.2">ii</text>
<text x="245.6" y="365.4" font-size="18" font-family='"Liberation Serif", serif' fill="#000" stroke="#000" stroke-width="0.15" textLength="66.3" lengthAdjust="spacingAndGlyphs">Patient 7</text>
<polygon points="407.5,462.6 407.5,455.5 408.1,455.3 411.1,454.8 413.1,451.8 415.2,448.7 417.2,444.7 419.2,440.1 421.3,438.6 422.8,433.5 424.8,432.5 426.3,428.4 427.9,423.9 429.4,420.3 430.6,414.2 431.2,411.7 432.4,416.2 434.0,419.3 435.5,418.3 437.0,421.3 438.0,429.4 439.5,431.5 439.9,429.9 441.4,430.4 442.3,438.1 443.8,442.9 445.2,449.1 446.7,443.8 447.6,443.4 449.1,447.7 450.5,448.7 452.4,451.1 453.9,450.6 454.8,453.0 455.8,450.6 457.2,451.1 458.7,455.4 460.6,454.9 463.0,453.0 464.9,454.9 467.8,455.9 470.7,455.9 472.6,457.3 474.5,457.3 476.5,456.3 478.4,457.3 480.3,459.7 483.2,459.2 486.1,459.7 487.0,460.5 489.0,461.5 492.0,462.0 492.0,462.6" fill="#4b4b4b" stroke="#000" stroke-width="1.15" stroke-linejoin="miter" stroke-miterlimit="3"/>
<polygon points="504.5,462.6 506.2,459.6 507.8,462.6" fill="#222"/>
<rect x="405.3" y="416.8" width="2.4" height="30.2" fill="#000"/>
<polyline points="407.2,462.0 408.6,452.8 410.1,445.7 412.1,438.6 414.2,429.4 416.0,423.4 417.2,420.3 418.7,424.4 420.2,433.5 421.8,438.6 423.8,440.6 425.8,443.7 427.4,447.7 428.4,449.7 429.9,444.7 430.9,442.6 431.9,445.7 434.0,441.6 435.5,442.6 437.5,445.7 438.0,447.7 440.9,453.5 443.8,455.4 446.7,457.3 449.5,458.8 457.2,459.7 470.0,460.3 482.0,460.6 490.0,460.4 495.0,461.5" fill="none" stroke="#d8d8d8" stroke-width="2.6" stroke-linejoin="round"/>
<rect x="405.5" y="381.6" width="106.8" height="81" fill="none" stroke="#000" stroke-width="1.1"/>
<line x1="400.5" y1="462.6" x2="405.5" y2="462.6" stroke="#000" stroke-width="0.9"/>
<line x1="402.5" y1="459.36" x2="405.5" y2="459.36" stroke="#000" stroke-width="0.9"/>
<line x1="402.5" y1="456.12" x2="405.5" y2="456.12" stroke="#000" stroke-width="0.9"/>
<line x1="402.5" y1="452.88" x2="405.5" y2="452.88" stroke="#000" stroke-width="0.9"/>
<line x1="402.5" y1="449.64" x2="405.5" y2="449.64" stroke="#000" stroke-width="0.9"/>
<line x1="400.5" y1="446.4" x2="405.5" y2="446.4" stroke="#000" stroke-width="0.9"/>
<line x1="402.5" y1="443.16" x2="405.5" y2="443.16" stroke="#000" stroke-width="0.9"/>
<line x1="402.5" y1="439.92" x2="405.5" y2="439.92" stroke="#000" stroke-width="0.9"/>
<line x1="402.5" y1="436.68" x2="405.5" y2="436.68" stroke="#000" stroke-width="0.9"/>
<line x1="402.5" y1="433.44" x2="405.5" y2="433.44" stroke="#000" stroke-width="0.9"/>
<line x1="400.5" y1="430.2" x2="405.5" y2="430.2" stroke="#000" stroke-width="0.9"/>
<line x1="402.5" y1="426.96" x2="405.5" y2="426.96" stroke="#000" stroke-width="0.9"/>
<line x1="402.5" y1="423.72" x2="405.5" y2="423.72" stroke="#000" stroke-width="0.9"/>
<line x1="402.5" y1="420.48" x2="405.5" y2="420.48" stroke="#000" stroke-width="0.9"/>
<line x1="402.5" y1="417.24" x2="405.5" y2="417.24" stroke="#000" stroke-width="0.9"/>
<line x1="400.5" y1="414" x2="405.5" y2="414" stroke="#000" stroke-width="0.9"/>
<line x1="402.5" y1="410.76" x2="405.5" y2="410.76" stroke="#000" stroke-width="0.9"/>
<line x1="402.5" y1="407.52" x2="405.5" y2="407.52" stroke="#000" stroke-width="0.9"/>
<line x1="402.5" y1="404.28" x2="405.5" y2="404.28" stroke="#000" stroke-width="0.9"/>
<line x1="402.5" y1="401.04" x2="405.5" y2="401.04" stroke="#000" stroke-width="0.9"/>
<line x1="400.5" y1="397.8" x2="405.5" y2="397.8" stroke="#000" stroke-width="0.9"/>
<line x1="402.5" y1="394.56" x2="405.5" y2="394.56" stroke="#000" stroke-width="0.9"/>
<line x1="402.5" y1="391.32" x2="405.5" y2="391.32" stroke="#000" stroke-width="0.9"/>
<line x1="402.5" y1="388.08" x2="405.5" y2="388.08" stroke="#000" stroke-width="0.9"/>
<line x1="402.5" y1="384.84" x2="405.5" y2="384.84" stroke="#000" stroke-width="0.9"/>
<line x1="400.5" y1="381.6" x2="405.5" y2="381.6" stroke="#000" stroke-width="0.9"/>
<line x1="405.5" y1="462.6" x2="405.5" y2="467.2" stroke="#000" stroke-width="1.2"/>
<line x1="413.54" y1="462.6" x2="413.54" y2="465.2" stroke="#000" stroke-width="1.0"/>
<line x1="418.24" y1="462.6" x2="418.24" y2="465.2" stroke="#000" stroke-width="1.0"/>
<line x1="421.58" y1="462.6" x2="421.58" y2="465.2" stroke="#000" stroke-width="1.0"/>
<line x1="424.16" y1="462.6" x2="424.16" y2="465.2" stroke="#000" stroke-width="1.0"/>
<line x1="426.28" y1="462.6" x2="426.28" y2="465.2" stroke="#000" stroke-width="1.0"/>
<line x1="428.06" y1="462.6" x2="428.06" y2="465.2" stroke="#000" stroke-width="1.0"/>
<line x1="429.61" y1="462.6" x2="429.61" y2="465.2" stroke="#000" stroke-width="1.0"/>
<line x1="430.98" y1="462.6" x2="430.98" y2="465.2" stroke="#000" stroke-width="1.0"/>
<line x1="432.2" y1="462.6" x2="432.2" y2="467.2" stroke="#000" stroke-width="1.2"/>
<line x1="440.24" y1="462.6" x2="440.24" y2="465.2" stroke="#000" stroke-width="1.0"/>
<line x1="444.94" y1="462.6" x2="444.94" y2="465.2" stroke="#000" stroke-width="1.0"/>
<line x1="448.28" y1="462.6" x2="448.28" y2="465.2" stroke="#000" stroke-width="1.0"/>
<line x1="450.86" y1="462.6" x2="450.86" y2="465.2" stroke="#000" stroke-width="1.0"/>
<line x1="452.98" y1="462.6" x2="452.98" y2="465.2" stroke="#000" stroke-width="1.0"/>
<line x1="454.76" y1="462.6" x2="454.76" y2="465.2" stroke="#000" stroke-width="1.0"/>
<line x1="456.31" y1="462.6" x2="456.31" y2="465.2" stroke="#000" stroke-width="1.0"/>
<line x1="457.68" y1="462.6" x2="457.68" y2="465.2" stroke="#000" stroke-width="1.0"/>
<line x1="458.9" y1="462.6" x2="458.9" y2="467.2" stroke="#000" stroke-width="1.2"/>
<line x1="466.94" y1="462.6" x2="466.94" y2="465.2" stroke="#000" stroke-width="1.0"/>
<line x1="471.64" y1="462.6" x2="471.64" y2="465.2" stroke="#000" stroke-width="1.0"/>
<line x1="474.98" y1="462.6" x2="474.98" y2="465.2" stroke="#000" stroke-width="1.0"/>
<line x1="477.56" y1="462.6" x2="477.56" y2="465.2" stroke="#000" stroke-width="1.0"/>
<line x1="479.68" y1="462.6" x2="479.68" y2="465.2" stroke="#000" stroke-width="1.0"/>
<line x1="481.46" y1="462.6" x2="481.46" y2="465.2" stroke="#000" stroke-width="1.0"/>
<line x1="483.01" y1="462.6" x2="483.01" y2="465.2" stroke="#000" stroke-width="1.0"/>
<line x1="484.38" y1="462.6" x2="484.38" y2="465.2" stroke="#000" stroke-width="1.0"/>
<line x1="485.6" y1="462.6" x2="485.6" y2="467.2" stroke="#000" stroke-width="1.2"/>
<line x1="493.64" y1="462.6" x2="493.64" y2="465.2" stroke="#000" stroke-width="1.0"/>
<line x1="498.34" y1="462.6" x2="498.34" y2="465.2" stroke="#000" stroke-width="1.0"/>
<line x1="501.68" y1="462.6" x2="501.68" y2="465.2" stroke="#000" stroke-width="1.0"/>
<line x1="504.26" y1="462.6" x2="504.26" y2="465.2" stroke="#000" stroke-width="1.0"/>
<line x1="506.38" y1="462.6" x2="506.38" y2="465.2" stroke="#000" stroke-width="1.0"/>
<line x1="508.16" y1="462.6" x2="508.16" y2="465.2" stroke="#000" stroke-width="1.0"/>
<line x1="509.71" y1="462.6" x2="509.71" y2="465.2" stroke="#000" stroke-width="1.0"/>
<line x1="511.08" y1="462.6" x2="511.08" y2="465.2" stroke="#000" stroke-width="1.0"/>
<line x1="512.3" y1="462.6" x2="512.3" y2="467.1" stroke="#000" stroke-width="0.9"/>
<text transform="translate(398,461.4) rotate(-90)" font-size="9.4" text-anchor="middle" font-family='"Liberation Serif", serif' fill="#111" stroke="#111" stroke-width="0.25" textLength="4.3" lengthAdjust="spacingAndGlyphs">0</text>
<text transform="translate(398,445.2) rotate(-90)" font-size="9.4" text-anchor="middle" font-family='"Liberation Serif", serif' fill="#111" stroke="#111" stroke-width="0.25" textLength="8.6" lengthAdjust="spacingAndGlyphs">10</text>
<text transform="translate(398,429) rotate(-90)" font-size="9.4" text-anchor="middle" font-family='"Liberation Serif", serif' fill="#111" stroke="#111" stroke-width="0.25" textLength="8.6" lengthAdjust="spacingAndGlyphs">20</text>
<text transform="translate(398,412.8) rotate(-90)" font-size="9.4" text-anchor="middle" font-family='"Liberation Serif", serif' fill="#111" stroke="#111" stroke-width="0.25" textLength="8.6" lengthAdjust="spacingAndGlyphs">30</text>
<text transform="translate(398,396.6) rotate(-90)" font-size="9.4" text-anchor="middle" font-family='"Liberation Serif", serif' fill="#111" stroke="#111" stroke-width="0.25" textLength="8.6" lengthAdjust="spacingAndGlyphs">40</text>
<text transform="translate(398,382.8) rotate(-90)" font-size="9.4" text-anchor="middle" font-family='"Liberation Serif", serif' fill="#111" stroke="#111" stroke-width="0.25" textLength="8.6" lengthAdjust="spacingAndGlyphs">50</text>
<g clip-path="url(#cc3)"><text transform="translate(386.6,423.9) rotate(-90)" font-size="8.8" text-anchor="middle" font-family='"Liberation Sans", sans-serif' fill="#111" stroke="#111" stroke-width="0.3" textLength="29" lengthAdjust="spacingAndGlyphs">Counts</text></g>
<text x="408.5" y="477.9" font-size="9.6" text-anchor="end" font-family='"Liberation Sans", sans-serif' fill="#111" stroke="#111" stroke-width="0.3">10</text>
<text x="408.5" y="472.5" font-size="8.6" font-family='"Liberation Sans", sans-serif' fill="#111" stroke="#111" stroke-width="0.25">0</text>
<text x="435.2" y="477.9" font-size="9.6" text-anchor="end" font-family='"Liberation Sans", sans-serif' fill="#111" stroke="#111" stroke-width="0.3">10</text>
<text x="435.2" y="472.5" font-size="8.6" font-family='"Liberation Sans", sans-serif' fill="#111" stroke="#111" stroke-width="0.25">1</text>
<text x="461.9" y="477.9" font-size="9.6" text-anchor="end" font-family='"Liberation Sans", sans-serif' fill="#111" stroke="#111" stroke-width="0.3">10</text>
<text x="461.9" y="472.5" font-size="8.6" font-family='"Liberation Sans", sans-serif' fill="#111" stroke="#111" stroke-width="0.25">2</text>
<text x="488.6" y="477.9" font-size="9.6" text-anchor="end" font-family='"Liberation Sans", sans-serif' fill="#111" stroke="#111" stroke-width="0.3">10</text>
<text x="488.6" y="472.5" font-size="8.6" font-family='"Liberation Sans", sans-serif' fill="#111" stroke="#111" stroke-width="0.25">3</text>
<text x="515.3" y="477.9" font-size="9.6" text-anchor="end" font-family='"Liberation Sans", sans-serif' fill="#111" stroke="#111" stroke-width="0.3">10</text>
<text x="515.3" y="472.5" font-size="8.6" font-family='"Liberation Sans", sans-serif' fill="#111" stroke="#111" stroke-width="0.25">4</text>
<text x="449" y="487.1" font-size="8.8" font-family='"Liberation Sans", sans-serif' fill="#111" stroke="#111" stroke-width="0.3" textLength="25.7" lengthAdjust="spacingAndGlyphs">MHC1</text>
<text x="362.6" y="390.3" font-size="17" font-weight="bold" font-family='"Liberation Sans", sans-serif' fill="#000" stroke="#000" stroke-width="0.2">iii</text>
<text x="419.1" y="365.4" font-size="18" font-family='"Liberation Serif", serif' fill="#000" stroke="#000" stroke-width="0.15" textLength="66.5" lengthAdjust="spacingAndGlyphs">Patient 8</text>
<line x1="61.4" y1="538" x2="61.4" y2="598.7" stroke="#e4e4e4" stroke-width="1.3"/>
<polygon points="75.8,562.8 77.7,555.6 79.6,562.3 81.6,569.0 83.0,573.8 84.9,584.0 88.3,592.1 96.5,595.0 110.0,596.4 130.0,596.6 152.0,596.8 155.0,598.7 86.8,598.7 85.4,594.0 83.5,588.3 81.6,581.5 79.6,573.8 77.2,567.1" fill="#dedede" stroke="none"/>
<polyline points="62.2,597 63,591 65,588 67,583 68.6,577 70.2,571 71.6,566 73.5,562 75.8,560" fill="none" stroke="#e2e2e2" stroke-width="1.6"/>
<polygon points="62.8,598.7 62.8,596.0 63.8,592.1 66.7,590.2 68.6,583.5 70.5,576.7 72.4,570.0 74.0,566.0 75.3,562.8 76.2,562.8 77.2,567.1 79.6,573.8 81.6,581.5 83.5,588.3 85.4,594.0 86.8,597.0 92.3,597.6 100.0,597.8 110.0,597.6 120.0,597.9 130.0,597.4 140.0,597.8 150.0,597.5 153.0,598.5 153.0,598.7" fill="#4b4b4b" stroke="#333" stroke-width="0.6" stroke-linejoin="miter" stroke-miterlimit="3"/>
<polyline points="76.5,558 77.7,555.6 79.6,562.3 81.6,569 83,573.8" fill="none" stroke="#111" stroke-width="1.2"/>
<polyline points="83.0,573.8 84.9,584.0 86.5,588.5 88.3,592.1 92.0,594.0 96.5,595.0" fill="none" stroke="#111" stroke-width="1.1" stroke-dasharray="1.4 2.2"/>
<circle cx="72.4" cy="562.8" r="0.7" fill="#222"/><circle cx="71.5" cy="566.2" r="0.7" fill="#222"/>
<polyline points="110,596.5 120,596.2 130,596.8 140,596 150,596.6 152,597.5" fill="none" stroke="#222" stroke-width="1.0" stroke-dasharray="2 1.6"/>
<rect x="60.2" y="520.8" width="113.05" height="77.9" fill="none" stroke="#000" stroke-width="1.1"/>
<line x1="55.2" y1="598.7" x2="60.2" y2="598.7" stroke="#000" stroke-width="0.9"/>
<line x1="57.2" y1="595.58" x2="60.2" y2="595.58" stroke="#000" stroke-width="0.9"/>
<line x1="57.2" y1="592.47" x2="60.2" y2="592.47" stroke="#000" stroke-width="0.9"/>
<line x1="57.2" y1="589.35" x2="60.2" y2="589.35" stroke="#000" stroke-width="0.9"/>
<line x1="57.2" y1="586.24" x2="60.2" y2="586.24" stroke="#000" stroke-width="0.9"/>
<line x1="55.2" y1="583.12" x2="60.2" y2="583.12" stroke="#000" stroke-width="0.9"/>
<line x1="57.2" y1="580" x2="60.2" y2="580" stroke="#000" stroke-width="0.9"/>
<line x1="57.2" y1="576.89" x2="60.2" y2="576.89" stroke="#000" stroke-width="0.9"/>
<line x1="57.2" y1="573.77" x2="60.2" y2="573.77" stroke="#000" stroke-width="0.9"/>
<line x1="57.2" y1="570.66" x2="60.2" y2="570.66" stroke="#000" stroke-width="0.9"/>
<line x1="55.2" y1="567.54" x2="60.2" y2="567.54" stroke="#000" stroke-width="0.9"/>
<line x1="57.2" y1="564.42" x2="60.2" y2="564.42" stroke="#000" stroke-width="0.9"/>
<line x1="57.2" y1="561.31" x2="60.2" y2="561.31" stroke="#000" stroke-width="0.9"/>
<line x1="57.2" y1="558.19" x2="60.2" y2="558.19" stroke="#000" stroke-width="0.9"/>
<line x1="57.2" y1="555.08" x2="60.2" y2="555.08" stroke="#000" stroke-width="0.9"/>
<line x1="55.2" y1="551.96" x2="60.2" y2="551.96" stroke="#000" stroke-width="0.9"/>
<line x1="57.2" y1="548.84" x2="60.2" y2="548.84" stroke="#000" stroke-width="0.9"/>
<line x1="57.2" y1="545.73" x2="60.2" y2="545.73" stroke="#000" stroke-width="0.9"/>
<line x1="57.2" y1="542.61" x2="60.2" y2="542.61" stroke="#000" stroke-width="0.9"/>
<line x1="57.2" y1="539.5" x2="60.2" y2="539.5" stroke="#000" stroke-width="0.9"/>
<line x1="55.2" y1="536.38" x2="60.2" y2="536.38" stroke="#000" stroke-width="0.9"/>
<line x1="57.2" y1="533.26" x2="60.2" y2="533.26" stroke="#000" stroke-width="0.9"/>
<line x1="57.2" y1="530.15" x2="60.2" y2="530.15" stroke="#000" stroke-width="0.9"/>
<line x1="57.2" y1="527.03" x2="60.2" y2="527.03" stroke="#000" stroke-width="0.9"/>
<line x1="57.2" y1="523.92" x2="60.2" y2="523.92" stroke="#000" stroke-width="0.9"/>
<line x1="55.2" y1="520.8" x2="60.2" y2="520.8" stroke="#000" stroke-width="0.9"/>
<line x1="60.2" y1="598.7" x2="60.2" y2="603.3" stroke="#000" stroke-width="1.2"/>
<line x1="68.71" y1="598.7" x2="68.71" y2="601.3" stroke="#000" stroke-width="1.0"/>
<line x1="73.68" y1="598.7" x2="73.68" y2="601.3" stroke="#000" stroke-width="1.0"/>
<line x1="77.22" y1="598.7" x2="77.22" y2="601.3" stroke="#000" stroke-width="1.0"/>
<line x1="79.95" y1="598.7" x2="79.95" y2="601.3" stroke="#000" stroke-width="1.0"/>
<line x1="82.19" y1="598.7" x2="82.19" y2="601.3" stroke="#000" stroke-width="1.0"/>
<line x1="84.08" y1="598.7" x2="84.08" y2="601.3" stroke="#000" stroke-width="1.0"/>
<line x1="85.72" y1="598.7" x2="85.72" y2="601.3" stroke="#000" stroke-width="1.0"/>
<line x1="87.17" y1="598.7" x2="87.17" y2="601.3" stroke="#000" stroke-width="1.0"/>
<line x1="88.46" y1="598.7" x2="88.46" y2="603.3" stroke="#000" stroke-width="1.2"/>
<line x1="96.97" y1="598.7" x2="96.97" y2="601.3" stroke="#000" stroke-width="1.0"/>
<line x1="101.95" y1="598.7" x2="101.95" y2="601.3" stroke="#000" stroke-width="1.0"/>
<line x1="105.48" y1="598.7" x2="105.48" y2="601.3" stroke="#000" stroke-width="1.0"/>
<line x1="108.22" y1="598.7" x2="108.22" y2="601.3" stroke="#000" stroke-width="1.0"/>
<line x1="110.45" y1="598.7" x2="110.45" y2="601.3" stroke="#000" stroke-width="1.0"/>
<line x1="112.35" y1="598.7" x2="112.35" y2="601.3" stroke="#000" stroke-width="1.0"/>
<line x1="113.99" y1="598.7" x2="113.99" y2="601.3" stroke="#000" stroke-width="1.0"/>
<line x1="115.43" y1="598.7" x2="115.43" y2="601.3" stroke="#000" stroke-width="1.0"/>
<line x1="116.72" y1="598.7" x2="116.72" y2="603.3" stroke="#000" stroke-width="1.2"/>
<line x1="125.23" y1="598.7" x2="125.23" y2="601.3" stroke="#000" stroke-width="1.0"/>
<line x1="130.21" y1="598.7" x2="130.21" y2="601.3" stroke="#000" stroke-width="1.0"/>
<line x1="133.74" y1="598.7" x2="133.74" y2="601.3" stroke="#000" stroke-width="1.0"/>
<line x1="136.48" y1="598.7" x2="136.48" y2="601.3" stroke="#000" stroke-width="1.0"/>
<line x1="138.72" y1="598.7" x2="138.72" y2="601.3" stroke="#000" stroke-width="1.0"/>
<line x1="140.61" y1="598.7" x2="140.61" y2="601.3" stroke="#000" stroke-width="1.0"/>
<line x1="142.25" y1="598.7" x2="142.25" y2="601.3" stroke="#000" stroke-width="1.0"/>
<line x1="143.69" y1="598.7" x2="143.69" y2="601.3" stroke="#000" stroke-width="1.0"/>
<line x1="144.99" y1="598.7" x2="144.99" y2="603.3" stroke="#000" stroke-width="1.2"/>
<line x1="153.5" y1="598.7" x2="153.5" y2="601.3" stroke="#000" stroke-width="1.0"/>
<line x1="158.47" y1="598.7" x2="158.47" y2="601.3" stroke="#000" stroke-width="1.0"/>
<line x1="162" y1="598.7" x2="162" y2="601.3" stroke="#000" stroke-width="1.0"/>
<line x1="164.74" y1="598.7" x2="164.74" y2="601.3" stroke="#000" stroke-width="1.0"/>
<line x1="166.98" y1="598.7" x2="166.98" y2="601.3" stroke="#000" stroke-width="1.0"/>
<line x1="168.87" y1="598.7" x2="168.87" y2="601.3" stroke="#000" stroke-width="1.0"/>
<line x1="170.51" y1="598.7" x2="170.51" y2="601.3" stroke="#000" stroke-width="1.0"/>
<line x1="171.96" y1="598.7" x2="171.96" y2="601.3" stroke="#000" stroke-width="1.0"/>
<line x1="173.25" y1="598.7" x2="173.25" y2="603.2" stroke="#000" stroke-width="0.9"/>
<text transform="translate(52.4,597.5) rotate(-90)" font-size="9.4" text-anchor="middle" font-family='"Liberation Serif", serif' fill="#111" stroke="#111" stroke-width="0.25" textLength="4.3" lengthAdjust="spacingAndGlyphs">0</text>
<text transform="translate(52.4,581.92) rotate(-90)" font-size="9.4" text-anchor="middle" font-family='"Liberation Serif", serif' fill="#111" stroke="#111" stroke-width="0.25" textLength="8.6" lengthAdjust="spacingAndGlyphs">10</text>
<text transform="translate(52.4,566.34) rotate(-90)" font-size="9.4" text-anchor="middle" font-family='"Liberation Serif", serif' fill="#111" stroke="#111" stroke-width="0.25" textLength="8.6" lengthAdjust="spacingAndGlyphs">20</text>
<text transform="translate(52.4,550.76) rotate(-90)" font-size="9.4" text-anchor="middle" font-family='"Liberation Serif", serif' fill="#111" stroke="#111" stroke-width="0.25" textLength="8.6" lengthAdjust="spacingAndGlyphs">30</text>
<text transform="translate(52.4,535.18) rotate(-90)" font-size="9.4" text-anchor="middle" font-family='"Liberation Serif", serif' fill="#111" stroke="#111" stroke-width="0.25" textLength="8.6" lengthAdjust="spacingAndGlyphs">40</text>
<text transform="translate(52.4,522) rotate(-90)" font-size="9.4" text-anchor="middle" font-family='"Liberation Serif", serif' fill="#111" stroke="#111" stroke-width="0.25" textLength="8.6" lengthAdjust="spacingAndGlyphs">50</text>
<g><text transform="translate(40.3,561.4) rotate(-90)" font-size="8.8" text-anchor="middle" font-family='"Liberation Sans", sans-serif' fill="#111" stroke="#111" stroke-width="0.3" textLength="29" lengthAdjust="spacingAndGlyphs">Counts</text></g>
<text x="63.2" y="614" font-size="9.6" text-anchor="end" font-family='"Liberation Sans", sans-serif' fill="#111" stroke="#111" stroke-width="0.3">10</text>
<text x="63.2" y="608.6" font-size="8.6" font-family='"Liberation Sans", sans-serif' fill="#111" stroke="#111" stroke-width="0.25">0</text>
<text x="91.46" y="614" font-size="9.6" text-anchor="end" font-family='"Liberation Sans", sans-serif' fill="#111" stroke="#111" stroke-width="0.3">10</text>
<text x="91.46" y="608.6" font-size="8.6" font-family='"Liberation Sans", sans-serif' fill="#111" stroke="#111" stroke-width="0.25">1</text>
<text x="119.72" y="614" font-size="9.6" text-anchor="end" font-family='"Liberation Sans", sans-serif' fill="#111" stroke="#111" stroke-width="0.3">10</text>
<text x="119.72" y="608.6" font-size="8.6" font-family='"Liberation Sans", sans-serif' fill="#111" stroke="#111" stroke-width="0.25">2</text>
<text x="147.99" y="614" font-size="9.6" text-anchor="end" font-family='"Liberation Sans", sans-serif' fill="#111" stroke="#111" stroke-width="0.3">10</text>
<text x="147.99" y="608.6" font-size="8.6" font-family='"Liberation Sans", sans-serif' fill="#111" stroke="#111" stroke-width="0.25">3</text>
<text x="176.25" y="614" font-size="9.6" text-anchor="end" font-family='"Liberation Sans", sans-serif' fill="#111" stroke="#111" stroke-width="0.3">10</text>
<text x="176.25" y="608.6" font-size="8.6" font-family='"Liberation Sans", sans-serif' fill="#111" stroke="#111" stroke-width="0.25">4</text>
<text x="102.5" y="623.2" font-size="8.8" font-family='"Liberation Sans", sans-serif' fill="#111" stroke="#111" stroke-width="0.3" textLength="25.5" lengthAdjust="spacingAndGlyphs">MIC A</text>
<text x="13.3" y="520.2" font-size="17" font-weight="bold" font-family='"Liberation Sans", sans-serif' fill="#000" stroke="#000" stroke-width="0.2">iv</text>
<polygon points="233.7,604.3 233.7,598.6 235.3,593.4 236.9,586.1 238.4,578.7 239.5,574.6 240.5,570.4 241.6,560.9 242.0,560.3 243.1,564.1 244.2,567.2 245.2,570.4 246.3,573.5 247.8,573.5 249.4,568.3 250.5,563.0 251.4,558.4 252.4,551.4 253.0,544.4 254.4,538.4 255.3,545.1 256.2,557.8 258.4,563.5 259.4,565.1 260.4,568.3 261.5,573.5 262.5,579.8 263.4,584.5 265.8,582.6 267.8,583.1 269.2,579.7 270.7,579.2 271.4,576.8 272.4,581.6 273.5,579.7 275.0,585.0 275.9,589.3 277.4,589.8 278.8,589.3 279.8,593.7 281.2,596.1 283.2,598.0 284.6,599.4 286.0,600.9 292.8,601.3 300.5,600.9 308.2,601.3 315.0,601.2 320.0,601.8 322.0,603.5 322.0,604.3" fill="#4b4b4b" stroke="#000" stroke-width="1.15" stroke-linejoin="miter" stroke-miterlimit="3"/>
<polygon points="243.5,587 245.8,589.2 246.8,592.5 248.9,592.5 250.5,589.2 251.5,586 251,596.5 244,596.5" fill="#dcdcdc"/>
<line x1="232" y1="528.3" x2="232" y2="604.3" stroke="#e4e4e4" stroke-width="1.2"/>
<polyline points="233.2,601.8 236.3,594.5 238.4,588.2 240.5,587.1 242.6,588.2 244.7,586.1 245.8,589.2 246.8,593.4 248.9,593.4 250.5,589.2 251.5,585.0 253.1,582.4 254.1,584.0 255.2,587.1 256.7,586.1 258.3,588.2 259.9,591.3 261.5,596.5 263.6,600.2 266.7,601.3 268.7,601.3 273.5,600.4 276.4,602.3 290.0,602.6 320.0,602.8" fill="none" stroke="#d8d8d8" stroke-width="2.1" stroke-linejoin="round"/>
<rect x="230.4" y="526.3" width="112.85" height="78" fill="none" stroke="#000" stroke-width="1.1"/>
<line x1="225.4" y1="604.3" x2="230.4" y2="604.3" stroke="#000" stroke-width="0.9"/>
<line x1="227.4" y1="601.18" x2="230.4" y2="601.18" stroke="#000" stroke-width="0.9"/>
<line x1="227.4" y1="598.06" x2="230.4" y2="598.06" stroke="#000" stroke-width="0.9"/>
<line x1="227.4" y1="594.94" x2="230.4" y2="594.94" stroke="#000" stroke-width="0.9"/>
<line x1="227.4" y1="591.82" x2="230.4" y2="591.82" stroke="#000" stroke-width="0.9"/>
<line x1="225.4" y1="588.7" x2="230.4" y2="588.7" stroke="#000" stroke-width="0.9"/>
<line x1="227.4" y1="585.58" x2="230.4" y2="585.58" stroke="#000" stroke-width="0.9"/>
<line x1="227.4" y1="582.46" x2="230.4" y2="582.46" stroke="#000" stroke-width="0.9"/>
<line x1="227.4" y1="579.34" x2="230.4" y2="579.34" stroke="#000" stroke-width="0.9"/>
<line x1="227.4" y1="576.22" x2="230.4" y2="576.22" stroke="#000" stroke-width="0.9"/>
<line x1="225.4" y1="573.1" x2="230.4" y2="573.1" stroke="#000" stroke-width="0.9"/>
<line x1="227.4" y1="569.98" x2="230.4" y2="569.98" stroke="#000" stroke-width="0.9"/>
<line x1="227.4" y1="566.86" x2="230.4" y2="566.86" stroke="#000" stroke-width="0.9"/>
<line x1="227.4" y1="563.74" x2="230.4" y2="563.74" stroke="#000" stroke-width="0.9"/>
<line x1="227.4" y1="560.62" x2="230.4" y2="560.62" stroke="#000" stroke-width="0.9"/>
<line x1="225.4" y1="557.5" x2="230.4" y2="557.5" stroke="#000" stroke-width="0.9"/>
<line x1="227.4" y1="554.38" x2="230.4" y2="554.38" stroke="#000" stroke-width="0.9"/>
<line x1="227.4" y1="551.26" x2="230.4" y2="551.26" stroke="#000" stroke-width="0.9"/>
<line x1="227.4" y1="548.14" x2="230.4" y2="548.14" stroke="#000" stroke-width="0.9"/>
<line x1="227.4" y1="545.02" x2="230.4" y2="545.02" stroke="#000" stroke-width="0.9"/>
<line x1="225.4" y1="541.9" x2="230.4" y2="541.9" stroke="#000" stroke-width="0.9"/>
<line x1="227.4" y1="538.78" x2="230.4" y2="538.78" stroke="#000" stroke-width="0.9"/>
<line x1="227.4" y1="535.66" x2="230.4" y2="535.66" stroke="#000" stroke-width="0.9"/>
<line x1="227.4" y1="532.54" x2="230.4" y2="532.54" stroke="#000" stroke-width="0.9"/>
<line x1="227.4" y1="529.42" x2="230.4" y2="529.42" stroke="#000" stroke-width="0.9"/>
<line x1="225.4" y1="526.3" x2="230.4" y2="526.3" stroke="#000" stroke-width="0.9"/>
<line x1="230.4" y1="604.3" x2="230.4" y2="608.9" stroke="#000" stroke-width="1.2"/>
<line x1="238.89" y1="604.3" x2="238.89" y2="606.9" stroke="#000" stroke-width="1.0"/>
<line x1="243.86" y1="604.3" x2="243.86" y2="606.9" stroke="#000" stroke-width="1.0"/>
<line x1="247.39" y1="604.3" x2="247.39" y2="606.9" stroke="#000" stroke-width="1.0"/>
<line x1="250.12" y1="604.3" x2="250.12" y2="606.9" stroke="#000" stroke-width="1.0"/>
<line x1="252.35" y1="604.3" x2="252.35" y2="606.9" stroke="#000" stroke-width="1.0"/>
<line x1="254.24" y1="604.3" x2="254.24" y2="606.9" stroke="#000" stroke-width="1.0"/>
<line x1="255.88" y1="604.3" x2="255.88" y2="606.9" stroke="#000" stroke-width="1.0"/>
<line x1="257.32" y1="604.3" x2="257.32" y2="606.9" stroke="#000" stroke-width="1.0"/>
<line x1="258.61" y1="604.3" x2="258.61" y2="608.9" stroke="#000" stroke-width="1.2"/>
<line x1="267.11" y1="604.3" x2="267.11" y2="606.9" stroke="#000" stroke-width="1.0"/>
<line x1="272.07" y1="604.3" x2="272.07" y2="606.9" stroke="#000" stroke-width="1.0"/>
<line x1="275.6" y1="604.3" x2="275.6" y2="606.9" stroke="#000" stroke-width="1.0"/>
<line x1="278.33" y1="604.3" x2="278.33" y2="606.9" stroke="#000" stroke-width="1.0"/>
<line x1="280.57" y1="604.3" x2="280.57" y2="606.9" stroke="#000" stroke-width="1.0"/>
<line x1="282.45" y1="604.3" x2="282.45" y2="606.9" stroke="#000" stroke-width="1.0"/>
<line x1="284.09" y1="604.3" x2="284.09" y2="606.9" stroke="#000" stroke-width="1.0"/>
<line x1="285.53" y1="604.3" x2="285.53" y2="606.9" stroke="#000" stroke-width="1.0"/>
<line x1="286.82" y1="604.3" x2="286.82" y2="608.9" stroke="#000" stroke-width="1.2"/>
<line x1="295.32" y1="604.3" x2="295.32" y2="606.9" stroke="#000" stroke-width="1.0"/>
<line x1="300.29" y1="604.3" x2="300.29" y2="606.9" stroke="#000" stroke-width="1.0"/>
<line x1="303.81" y1="604.3" x2="303.81" y2="606.9" stroke="#000" stroke-width="1.0"/>
<line x1="306.54" y1="604.3" x2="306.54" y2="606.9" stroke="#000" stroke-width="1.0"/>
<line x1="308.78" y1="604.3" x2="308.78" y2="606.9" stroke="#000" stroke-width="1.0"/>
<line x1="310.67" y1="604.3" x2="310.67" y2="606.9" stroke="#000" stroke-width="1.0"/>
<line x1="312.3" y1="604.3" x2="312.3" y2="606.9" stroke="#000" stroke-width="1.0"/>
<line x1="313.75" y1="604.3" x2="313.75" y2="606.9" stroke="#000" stroke-width="1.0"/>
<line x1="315.04" y1="604.3" x2="315.04" y2="608.9" stroke="#000" stroke-width="1.2"/>
<line x1="323.53" y1="604.3" x2="323.53" y2="606.9" stroke="#000" stroke-width="1.0"/>
<line x1="328.5" y1="604.3" x2="328.5" y2="606.9" stroke="#000" stroke-width="1.0"/>
<line x1="332.02" y1="604.3" x2="332.02" y2="606.9" stroke="#000" stroke-width="1.0"/>
<line x1="334.76" y1="604.3" x2="334.76" y2="606.9" stroke="#000" stroke-width="1.0"/>
<line x1="336.99" y1="604.3" x2="336.99" y2="606.9" stroke="#000" stroke-width="1.0"/>
<line x1="338.88" y1="604.3" x2="338.88" y2="606.9" stroke="#000" stroke-width="1.0"/>
<line x1="340.52" y1="604.3" x2="340.52" y2="606.9" stroke="#000" stroke-width="1.0"/>
<line x1="341.96" y1="604.3" x2="341.96" y2="606.9" stroke="#000" stroke-width="1.0"/>
<line x1="343.25" y1="604.3" x2="343.25" y2="608.8" stroke="#000" stroke-width="0.9"/>
<text transform="translate(222,603.1) rotate(-90)" font-size="9.4" text-anchor="middle" font-family='"Liberation Serif", serif' fill="#111" stroke="#111" stroke-width="0.25" textLength="4.3" lengthAdjust="spacingAndGlyphs">0</text>
<text transform="translate(222,587.5) rotate(-90)" font-size="9.4" text-anchor="middle" font-family='"Liberation Serif", serif' fill="#111" stroke="#111" stroke-width="0.25" textLength="8.6" lengthAdjust="spacingAndGlyphs">10</text>
<text transform="translate(222,571.9) rotate(-90)" font-size="9.4" text-anchor="middle" font-family='"Liberation Serif", serif' fill="#111" stroke="#111" stroke-width="0.25" textLength="8.6" lengthAdjust="spacingAndGlyphs">20</text>
<text transform="translate(222,556.3) rotate(-90)" font-size="9.4" text-anchor="middle" font-family='"Liberation Serif", serif' fill="#111" stroke="#111" stroke-width="0.25" textLength="8.6" lengthAdjust="spacingAndGlyphs">30</text>
<text transform="translate(222,540.7) rotate(-90)" font-size="9.4" text-anchor="middle" font-family='"Liberation Serif", serif' fill="#111" stroke="#111" stroke-width="0.25" textLength="8.6" lengthAdjust="spacingAndGlyphs">40</text>
<text transform="translate(222,527.5) rotate(-90)" font-size="9.4" text-anchor="middle" font-family='"Liberation Serif", serif' fill="#111" stroke="#111" stroke-width="0.25" textLength="8.6" lengthAdjust="spacingAndGlyphs">50</text>
<g><text transform="translate(210.3,567.5) rotate(-90)" font-size="8.8" text-anchor="middle" font-family='"Liberation Sans", sans-serif' fill="#111" stroke="#111" stroke-width="0.3" textLength="29" lengthAdjust="spacingAndGlyphs">Counts</text></g>
<text x="233.4" y="619.6" font-size="9.6" text-anchor="end" font-family='"Liberation Sans", sans-serif' fill="#111" stroke="#111" stroke-width="0.3">10</text>
<text x="233.4" y="614.2" font-size="8.6" font-family='"Liberation Sans", sans-serif' fill="#111" stroke="#111" stroke-width="0.25">0</text>
<text x="261.61" y="619.6" font-size="9.6" text-anchor="end" font-family='"Liberation Sans", sans-serif' fill="#111" stroke="#111" stroke-width="0.3">10</text>
<text x="261.61" y="614.2" font-size="8.6" font-family='"Liberation Sans", sans-serif' fill="#111" stroke="#111" stroke-width="0.25">1</text>
<text x="289.82" y="619.6" font-size="9.6" text-anchor="end" font-family='"Liberation Sans", sans-serif' fill="#111" stroke="#111" stroke-width="0.3">10</text>
<text x="289.82" y="614.2" font-size="8.6" font-family='"Liberation Sans", sans-serif' fill="#111" stroke="#111" stroke-width="0.25">2</text>
<text x="318.04" y="619.6" font-size="9.6" text-anchor="end" font-family='"Liberation Sans", sans-serif' fill="#111" stroke="#111" stroke-width="0.3">10</text>
<text x="318.04" y="614.2" font-size="8.6" font-family='"Liberation Sans", sans-serif' fill="#111" stroke="#111" stroke-width="0.25">3</text>
<text x="346.25" y="619.6" font-size="9.6" text-anchor="end" font-family='"Liberation Sans", sans-serif' fill="#111" stroke="#111" stroke-width="0.3">10</text>
<text x="346.25" y="614.2" font-size="8.6" font-family='"Liberation Sans", sans-serif' fill="#111" stroke="#111" stroke-width="0.25">4</text>
<text x="272" y="628.8" font-size="8.8" font-family='"Liberation Sans", sans-serif' fill="#111" stroke="#111" stroke-width="0.3" textLength="26" lengthAdjust="spacingAndGlyphs">MIC A</text>
<text x="196.6" y="520.5" font-size="17" font-weight="bold" font-family='"Liberation Sans", sans-serif' fill="#000" stroke="#000" stroke-width="0.2">v</text>
<polygon points="403.9,600.3 403.9,587.1 405.6,588.3 407.3,586.0 408.4,582.6 409.6,579.1 410.1,575.7 411.3,574.6 412.4,573.4 413.6,576.9 415.3,578.0 417.0,579.1 418.1,575.7 419.9,578.0 421.6,579.1 423.9,580.3 426.1,581.4 427.9,580.3 429.6,582.6 431.9,582.0 434.1,580.3 436.4,582.6 437.4,582.6 439.4,586.0 441.3,580.2 442.7,583.1 444.7,580.2 446.1,583.6 448.0,579.7 449.5,583.1 450.9,578.8 451.9,583.1 453.3,586.0 454.8,588.8 456.7,588.8 458.6,591.3 460.5,593.2 462.9,594.6 465.8,595.1 467.7,595.6 469.2,594.1 470.6,597.0 474.5,598.0 479.3,598.0 484.1,598.5 488.0,599.5 488.0,600.3" fill="#4b4b4b" stroke="#000" stroke-width="1.15" stroke-linejoin="miter" stroke-miterlimit="3"/>
<rect x="402.3" y="558.6" width="1.8" height="8" fill="#000"/>
<polyline points="403.6,599.5 404.4,581.4 406.1,564.3 407.3,552.9 408.4,543.7 409.6,536.9 410.7,539.1 411.9,544.9 413.0,555.1 414.1,563.1 415.3,570.0 416.4,574.6 417.6,580.3 418.7,586.0 420.4,591.7 422.7,595.1 425.6,597.4 430.7,598.6 435.3,598.0 440.0,598.8 445.0,597.5 450.0,598.8 455.0,597.5 460.0,598.8 475.0,599.0 490.0,599.2" fill="none" stroke="#d8d8d8" stroke-width="2.0" stroke-linejoin="round"/>
<rect x="402.8" y="524.2" width="104" height="76.1" fill="none" stroke="#000" stroke-width="1.1"/>
<line x1="397.8" y1="600.3" x2="402.8" y2="600.3" stroke="#000" stroke-width="0.9"/>
<line x1="399.8" y1="597.26" x2="402.8" y2="597.26" stroke="#000" stroke-width="0.9"/>
<line x1="399.8" y1="594.21" x2="402.8" y2="594.21" stroke="#000" stroke-width="0.9"/>
<line x1="399.8" y1="591.17" x2="402.8" y2="591.17" stroke="#000" stroke-width="0.9"/>
<line x1="399.8" y1="588.12" x2="402.8" y2="588.12" stroke="#000" stroke-width="0.9"/>
<line x1="397.8" y1="585.08" x2="402.8" y2="585.08" stroke="#000" stroke-width="0.9"/>
<line x1="399.8" y1="582.04" x2="402.8" y2="582.04" stroke="#000" stroke-width="0.9"/>
<line x1="399.8" y1="578.99" x2="402.8" y2="578.99" stroke="#000" stroke-width="0.9"/>
<line x1="399.8" y1="575.95" x2="402.8" y2="575.95" stroke="#000" stroke-width="0.9"/>
<line x1="399.8" y1="572.9" x2="402.8" y2="572.9" stroke="#000" stroke-width="0.9"/>
<line x1="397.8" y1="569.86" x2="402.8" y2="569.86" stroke="#000" stroke-width="0.9"/>
<line x1="399.8" y1="566.82" x2="402.8" y2="566.82" stroke="#000" stroke-width="0.9"/>
<line x1="399.8" y1="563.77" x2="402.8" y2="563.77" stroke="#000" stroke-width="0.9"/>
<line x1="399.8" y1="560.73" x2="402.8" y2="560.73" stroke="#000" stroke-width="0.9"/>
<line x1="399.8" y1="557.68" x2="402.8" y2="557.68" stroke="#000" stroke-width="0.9"/>
<line x1="397.8" y1="554.64" x2="402.8" y2="554.64" stroke="#000" stroke-width="0.9"/>
<line x1="399.8" y1="551.6" x2="402.8" y2="551.6" stroke="#000" stroke-width="0.9"/>
<line x1="399.8" y1="548.55" x2="402.8" y2="548.55" stroke="#000" stroke-width="0.9"/>
<line x1="399.8" y1="545.51" x2="402.8" y2="545.51" stroke="#000" stroke-width="0.9"/>
<line x1="399.8" y1="542.46" x2="402.8" y2="542.46" stroke="#000" stroke-width="0.9"/>
<line x1="397.8" y1="539.42" x2="402.8" y2="539.42" stroke="#000" stroke-width="0.9"/>
<line x1="399.8" y1="536.38" x2="402.8" y2="536.38" stroke="#000" stroke-width="0.9"/>
<line x1="399.8" y1="533.33" x2="402.8" y2="533.33" stroke="#000" stroke-width="0.9"/>
<line x1="399.8" y1="530.29" x2="402.8" y2="530.29" stroke="#000" stroke-width="0.9"/>
<line x1="399.8" y1="527.24" x2="402.8" y2="527.24" stroke="#000" stroke-width="0.9"/>
<line x1="397.8" y1="524.2" x2="402.8" y2="524.2" stroke="#000" stroke-width="0.9"/>
<line x1="402.8" y1="600.3" x2="402.8" y2="604.9" stroke="#000" stroke-width="1.2"/>
<line x1="410.63" y1="600.3" x2="410.63" y2="602.9" stroke="#000" stroke-width="1.0"/>
<line x1="415.21" y1="600.3" x2="415.21" y2="602.9" stroke="#000" stroke-width="1.0"/>
<line x1="418.45" y1="600.3" x2="418.45" y2="602.9" stroke="#000" stroke-width="1.0"/>
<line x1="420.97" y1="600.3" x2="420.97" y2="602.9" stroke="#000" stroke-width="1.0"/>
<line x1="423.03" y1="600.3" x2="423.03" y2="602.9" stroke="#000" stroke-width="1.0"/>
<line x1="424.77" y1="600.3" x2="424.77" y2="602.9" stroke="#000" stroke-width="1.0"/>
<line x1="426.28" y1="600.3" x2="426.28" y2="602.9" stroke="#000" stroke-width="1.0"/>
<line x1="427.61" y1="600.3" x2="427.61" y2="602.9" stroke="#000" stroke-width="1.0"/>
<line x1="428.8" y1="600.3" x2="428.8" y2="604.9" stroke="#000" stroke-width="1.2"/>
<line x1="436.63" y1="600.3" x2="436.63" y2="602.9" stroke="#000" stroke-width="1.0"/>
<line x1="441.21" y1="600.3" x2="441.21" y2="602.9" stroke="#000" stroke-width="1.0"/>
<line x1="444.45" y1="600.3" x2="444.45" y2="602.9" stroke="#000" stroke-width="1.0"/>
<line x1="446.97" y1="600.3" x2="446.97" y2="602.9" stroke="#000" stroke-width="1.0"/>
<line x1="449.03" y1="600.3" x2="449.03" y2="602.9" stroke="#000" stroke-width="1.0"/>
<line x1="450.77" y1="600.3" x2="450.77" y2="602.9" stroke="#000" stroke-width="1.0"/>
<line x1="452.28" y1="600.3" x2="452.28" y2="602.9" stroke="#000" stroke-width="1.0"/>
<line x1="453.61" y1="600.3" x2="453.61" y2="602.9" stroke="#000" stroke-width="1.0"/>
<line x1="454.8" y1="600.3" x2="454.8" y2="604.9" stroke="#000" stroke-width="1.2"/>
<line x1="462.63" y1="600.3" x2="462.63" y2="602.9" stroke="#000" stroke-width="1.0"/>
<line x1="467.21" y1="600.3" x2="467.21" y2="602.9" stroke="#000" stroke-width="1.0"/>
<line x1="470.45" y1="600.3" x2="470.45" y2="602.9" stroke="#000" stroke-width="1.0"/>
<line x1="472.97" y1="600.3" x2="472.97" y2="602.9" stroke="#000" stroke-width="1.0"/>
<line x1="475.03" y1="600.3" x2="475.03" y2="602.9" stroke="#000" stroke-width="1.0"/>
<line x1="476.77" y1="600.3" x2="476.77" y2="602.9" stroke="#000" stroke-width="1.0"/>
<line x1="478.28" y1="600.3" x2="478.28" y2="602.9" stroke="#000" stroke-width="1.0"/>
<line x1="479.61" y1="600.3" x2="479.61" y2="602.9" stroke="#000" stroke-width="1.0"/>
<line x1="480.8" y1="600.3" x2="480.8" y2="604.9" stroke="#000" stroke-width="1.2"/>
<line x1="488.63" y1="600.3" x2="488.63" y2="602.9" stroke="#000" stroke-width="1.0"/>
<line x1="493.21" y1="600.3" x2="493.21" y2="602.9" stroke="#000" stroke-width="1.0"/>
<line x1="496.45" y1="600.3" x2="496.45" y2="602.9" stroke="#000" stroke-width="1.0"/>
<line x1="498.97" y1="600.3" x2="498.97" y2="602.9" stroke="#000" stroke-width="1.0"/>
<line x1="501.03" y1="600.3" x2="501.03" y2="602.9" stroke="#000" stroke-width="1.0"/>
<line x1="502.77" y1="600.3" x2="502.77" y2="602.9" stroke="#000" stroke-width="1.0"/>
<line x1="504.28" y1="600.3" x2="504.28" y2="602.9" stroke="#000" stroke-width="1.0"/>
<line x1="505.61" y1="600.3" x2="505.61" y2="602.9" stroke="#000" stroke-width="1.0"/>
<line x1="506.8" y1="600.3" x2="506.8" y2="604.8" stroke="#000" stroke-width="0.9"/>
<text transform="translate(393.6,599.1) rotate(-90)" font-size="9.4" text-anchor="middle" font-family='"Liberation Serif", serif' fill="#111" stroke="#111" stroke-width="0.25" textLength="4.3" lengthAdjust="spacingAndGlyphs">0</text>
<text transform="translate(393.6,583.88) rotate(-90)" font-size="9.4" text-anchor="middle" font-family='"Liberation Serif", serif' fill="#111" stroke="#111" stroke-width="0.25" textLength="8.6" lengthAdjust="spacingAndGlyphs">10</text>
<text transform="translate(393.6,568.66) rotate(-90)" font-size="9.4" text-anchor="middle" font-family='"Liberation Serif", serif' fill="#111" stroke="#111" stroke-width="0.25" textLength="8.6" lengthAdjust="spacingAndGlyphs">20</text>
<text transform="translate(393.6,553.44) rotate(-90)" font-size="9.4" text-anchor="middle" font-family='"Liberation Serif", serif' fill="#111" stroke="#111" stroke-width="0.25" textLength="8.6" lengthAdjust="spacingAndGlyphs">30</text>
<text transform="translate(393.6,538.22) rotate(-90)" font-size="9.4" text-anchor="middle" font-family='"Liberation Serif", serif' fill="#111" stroke="#111" stroke-width="0.25" textLength="8.6" lengthAdjust="spacingAndGlyphs">40</text>
<text transform="translate(393.6,525.4) rotate(-90)" font-size="9.4" text-anchor="middle" font-family='"Liberation Serif", serif' fill="#111" stroke="#111" stroke-width="0.25" textLength="8.6" lengthAdjust="spacingAndGlyphs">50</text>
<g><text transform="translate(383.9,563.7) rotate(-90)" font-size="8.8" text-anchor="middle" font-family='"Liberation Sans", sans-serif' fill="#111" stroke="#111" stroke-width="0.3" textLength="29" lengthAdjust="spacingAndGlyphs">Counts</text></g>
<text x="405.8" y="615.6" font-size="9.6" text-anchor="end" font-family='"Liberation Sans", sans-serif' fill="#111" stroke="#111" stroke-width="0.3">10</text>
<text x="405.8" y="610.2" font-size="8.6" font-family='"Liberation Sans", sans-serif' fill="#111" stroke="#111" stroke-width="0.25">0</text>
<text x="431.8" y="615.6" font-size="9.6" text-anchor="end" font-family='"Liberation Sans", sans-serif' fill="#111" stroke="#111" stroke-width="0.3">10</text>
<text x="431.8" y="610.2" font-size="8.6" font-family='"Liberation Sans", sans-serif' fill="#111" stroke="#111" stroke-width="0.25">1</text>
<text x="457.8" y="615.6" font-size="9.6" text-anchor="end" font-family='"Liberation Sans", sans-serif' fill="#111" stroke="#111" stroke-width="0.3">10</text>
<text x="457.8" y="610.2" font-size="8.6" font-family='"Liberation Sans", sans-serif' fill="#111" stroke="#111" stroke-width="0.25">2</text>
<text x="483.8" y="615.6" font-size="9.6" text-anchor="end" font-family='"Liberation Sans", sans-serif' fill="#111" stroke="#111" stroke-width="0.3">10</text>
<text x="483.8" y="610.2" font-size="8.6" font-family='"Liberation Sans", sans-serif' fill="#111" stroke="#111" stroke-width="0.25">3</text>
<text x="509.8" y="615.6" font-size="9.6" text-anchor="end" font-family='"Liberation Sans", sans-serif' fill="#111" stroke="#111" stroke-width="0.3">10</text>
<text x="509.8" y="610.2" font-size="8.6" font-family='"Liberation Sans", sans-serif' fill="#111" stroke="#111" stroke-width="0.25">4</text>
<text x="441.2" y="624.8" font-size="8.8" font-family='"Liberation Sans", sans-serif' fill="#111" stroke="#111" stroke-width="0.3" textLength="22.3" lengthAdjust="spacingAndGlyphs">MICA</text>
<text x="360.6" y="525.6" font-size="17" font-weight="bold" font-family='"Liberation Sans", sans-serif' fill="#000" stroke="#000" stroke-width="0.2">vi</text>
</svg>
</body></html>
